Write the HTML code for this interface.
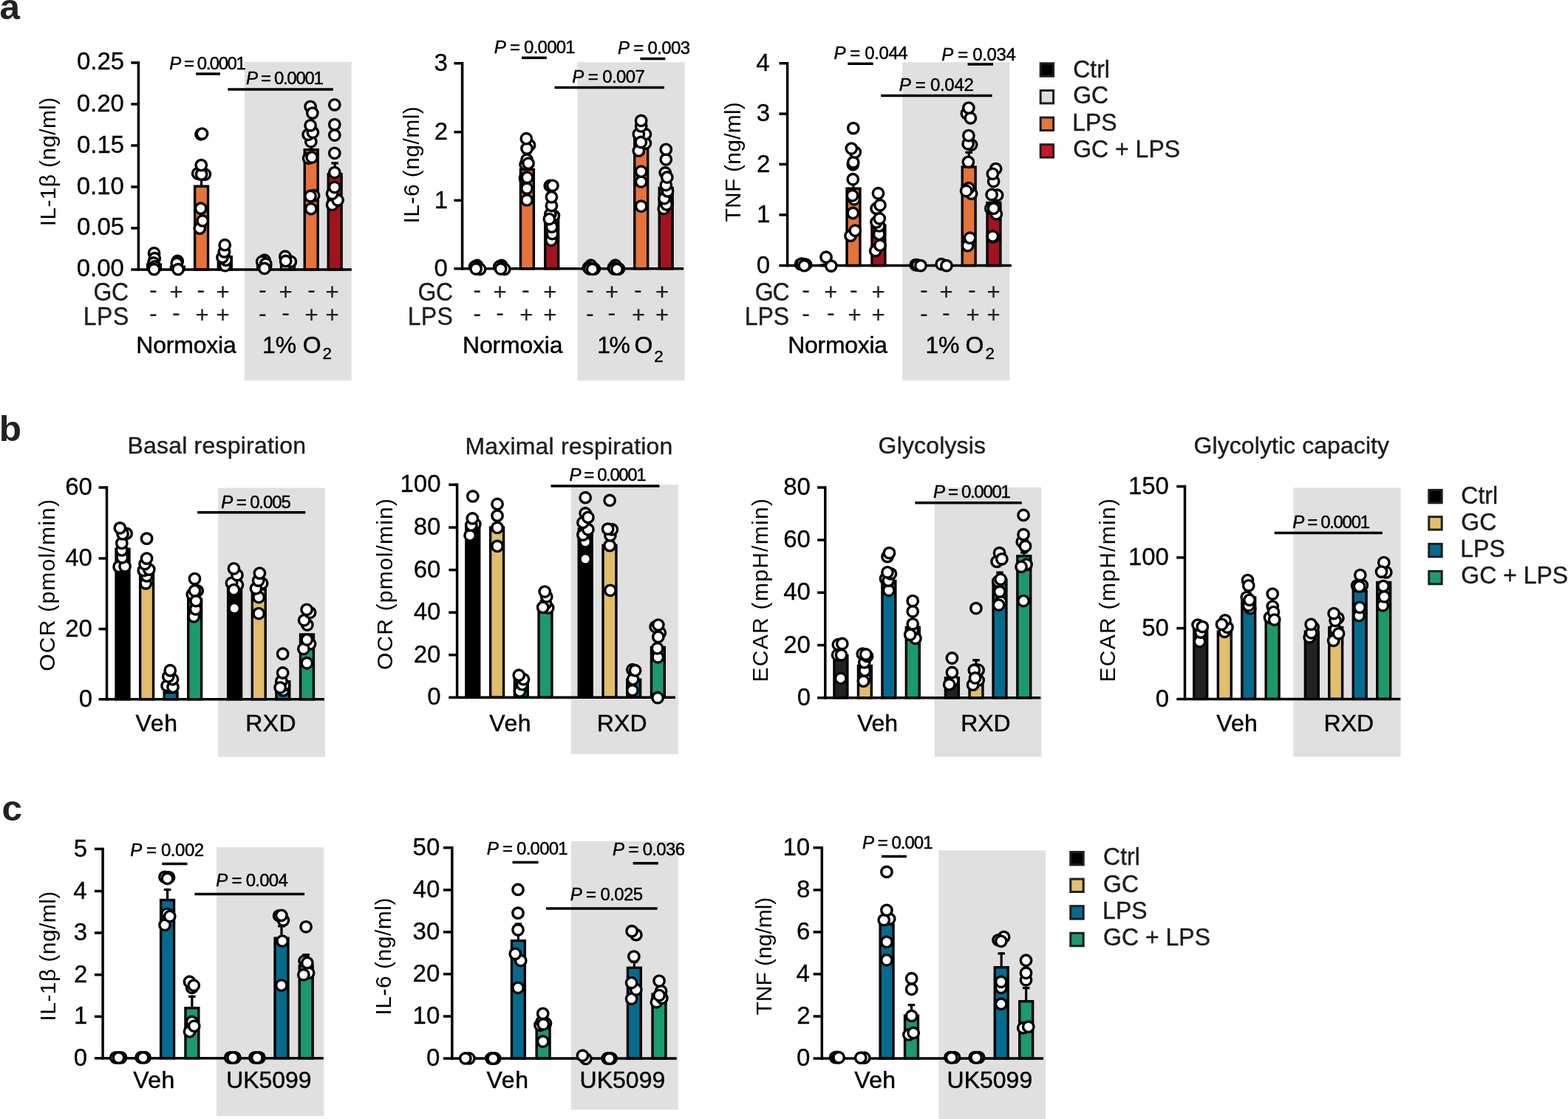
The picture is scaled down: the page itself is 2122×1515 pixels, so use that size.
<!DOCTYPE html>
<html lang="en">
<head>
<meta charset="utf-8">
<title>Figure</title>
<style>
html, body { margin: 0; padding: 0; background: #fff; }
body { width: 2122px; height: 1515px; overflow: hidden; }
svg { display: block; font-family: "Liberation Sans", Arial, Helvetica, sans-serif; }
svg text { white-space: pre; }
</style>
</head>
<body>
<svg xmlns="http://www.w3.org/2000/svg" width="2122" height="1515" viewBox="0 0 2122 1515">
<rect x="0" y="0" width="2122" height="1515" fill="#fff"/>
<g id="gray">
<rect x="330.9" y="83.7" width="144.9" height="431.5" fill="#e0e0e0"/>
<rect x="781.5" y="84.2" width="145.1" height="431" fill="#e0e0e0"/>
<rect x="1221.3" y="84.2" width="145" height="431" fill="#e0e0e0"/>
<rect x="295.2" y="660.6" width="144.8" height="364.2" fill="#e0e0e0"/>
<rect x="772.9" y="656.2" width="144.9" height="364.6" fill="#e0e0e0"/>
<rect x="1264.7" y="660" width="144.8" height="364.6" fill="#e0e0e0"/>
<rect x="1750.5" y="660.3" width="145.1" height="364.3" fill="#e0e0e0"/>
<rect x="293" y="1147" width="145.3" height="363.9" fill="#e0e0e0"/>
<rect x="772.9" y="1139" width="144.9" height="363.4" fill="#e0e0e0"/>
<rect x="1270.3" y="1151.2" width="144.9" height="364.8" fill="#e0e0e0"/>
</g>
<g id="bars">
<rect x="199.55" y="358.2" width="17.9" height="6.7" fill="#000" stroke="#000" stroke-width="3.4"/>
<rect x="231.45" y="361.2" width="17.9" height="3.7" fill="#dedede" stroke="#000" stroke-width="3.4"/>
<rect x="263.65" y="252.2" width="17.9" height="112.7" fill="#e5733b" stroke="#000" stroke-width="3.4"/>
<rect x="295.35" y="347.6" width="17.9" height="17.3" fill="#a1141f" stroke="#000" stroke-width="3.4"/>
<rect x="348.65" y="359.2" width="17.9" height="5.7" fill="#000" stroke="#000" stroke-width="3.4"/>
<rect x="380.55" y="357.7" width="17.9" height="7.2" fill="#dedede" stroke="#000" stroke-width="3.4"/>
<rect x="412.25" y="202.7" width="17.9" height="162.2" fill="#e5733b" stroke="#000" stroke-width="3.4"/>
<rect x="444.25" y="235.7" width="17.9" height="129.2" fill="#a1141f" stroke="#000" stroke-width="3.4"/>
<rect x="638.05" y="362.7" width="17.9" height="1" fill="#000" stroke="#000" stroke-width="3.4"/>
<rect x="671.25" y="362.7" width="17.9" height="1" fill="#dedede" stroke="#000" stroke-width="3.4"/>
<rect x="704.45" y="229.5" width="17.9" height="134.2" fill="#e5733b" stroke="#000" stroke-width="3.4"/>
<rect x="737.75" y="295.7" width="17.9" height="68" fill="#a1141f" stroke="#000" stroke-width="3.4"/>
<rect x="792.35" y="362.7" width="17.9" height="1" fill="#000" stroke="#000" stroke-width="3.4"/>
<rect x="825.55" y="362.7" width="17.9" height="1" fill="#dedede" stroke="#000" stroke-width="3.4"/>
<rect x="858.75" y="180.7" width="17.9" height="183" fill="#e5733b" stroke="#000" stroke-width="3.4"/>
<rect x="892.25" y="254.4" width="17.9" height="109.3" fill="#a1141f" stroke="#000" stroke-width="3.4"/>
<rect x="1078.05" y="358.7" width="17.9" height="0.9" fill="#000" stroke="#000" stroke-width="3.4"/>
<rect x="1112.05" y="358.7" width="17.9" height="0.9" fill="#dedede" stroke="#000" stroke-width="3.4"/>
<rect x="1146.05" y="255.2" width="17.9" height="104.4" fill="#e5733b" stroke="#000" stroke-width="3.4"/>
<rect x="1179.95" y="305.1" width="17.9" height="54.5" fill="#a1141f" stroke="#000" stroke-width="3.4"/>
<rect x="1234.25" y="358.7" width="17.9" height="0.9" fill="#000" stroke="#000" stroke-width="3.4"/>
<rect x="1268.25" y="358.7" width="17.9" height="0.9" fill="#dedede" stroke="#000" stroke-width="3.4"/>
<rect x="1302.25" y="226" width="17.9" height="133.6" fill="#e5733b" stroke="#000" stroke-width="3.4"/>
<rect x="1336.05" y="274.4" width="17.9" height="85.2" fill="#a1141f" stroke="#000" stroke-width="3.4"/>
<rect x="157.05" y="743.3" width="17.9" height="203.4" fill="#000" stroke="#000" stroke-width="3.4"/>
<rect x="189.65" y="774.7" width="17.9" height="172" fill="#e2be6a" stroke="#000" stroke-width="3.4"/>
<rect x="222.15" y="937.7" width="17.9" height="9" fill="#056b8e" stroke="#000" stroke-width="3.4"/>
<rect x="254.75" y="811.5" width="17.9" height="135.2" fill="#1c9a6b" stroke="#000" stroke-width="3.4"/>
<rect x="308.65" y="794.7" width="17.9" height="152" fill="#000" stroke="#000" stroke-width="3.4"/>
<rect x="341.35" y="797.7" width="17.9" height="149" fill="#e2be6a" stroke="#000" stroke-width="3.4"/>
<rect x="373.85" y="922.7" width="17.9" height="24" fill="#056b8e" stroke="#000" stroke-width="3.4"/>
<rect x="406.55" y="859" width="17.9" height="87.7" fill="#1c9a6b" stroke="#000" stroke-width="3.4"/>
<rect x="630.85" y="710.4" width="17.9" height="233.8" fill="#000" stroke="#000" stroke-width="3.4"/>
<rect x="663.65" y="714.1" width="17.9" height="230.1" fill="#e2be6a" stroke="#000" stroke-width="3.4"/>
<rect x="696.35" y="917.7" width="17.9" height="26.5" fill="#056b8e" stroke="#000" stroke-width="3.4"/>
<rect x="729.05" y="827.7" width="17.9" height="116.5" fill="#1c9a6b" stroke="#000" stroke-width="3.4"/>
<rect x="783.25" y="716.1" width="17.9" height="228.1" fill="#000" stroke="#000" stroke-width="3.4"/>
<rect x="816.05" y="738.3" width="17.9" height="205.9" fill="#e2be6a" stroke="#000" stroke-width="3.4"/>
<rect x="848.75" y="920.1" width="17.9" height="24.1" fill="#056b8e" stroke="#000" stroke-width="3.4"/>
<rect x="881.45" y="876.4" width="17.9" height="67.8" fill="#1c9a6b" stroke="#000" stroke-width="3.4"/>
<rect x="1128.95" y="887.7" width="17.9" height="57" fill="#222321" stroke="#000" stroke-width="3.4"/>
<rect x="1161.45" y="901.4" width="17.9" height="43.3" fill="#e2be6a" stroke="#000" stroke-width="3.4"/>
<rect x="1193.95" y="786.5" width="17.9" height="158.2" fill="#056b8e" stroke="#000" stroke-width="3.4"/>
<rect x="1226.35" y="849.3" width="17.9" height="95.4" fill="#1c9a6b" stroke="#000" stroke-width="3.4"/>
<rect x="1279.45" y="917.7" width="17.9" height="27" fill="#222321" stroke="#000" stroke-width="3.4"/>
<rect x="1312.05" y="921.4" width="17.9" height="23.3" fill="#e2be6a" stroke="#000" stroke-width="3.4"/>
<rect x="1344.05" y="785.3" width="17.9" height="159.4" fill="#056b8e" stroke="#000" stroke-width="3.4"/>
<rect x="1376.85" y="752.8" width="17.9" height="191.9" fill="#1c9a6b" stroke="#000" stroke-width="3.4"/>
<rect x="1615.75" y="852.7" width="17.9" height="93.7" fill="#222321" stroke="#000" stroke-width="3.4"/>
<rect x="1648.35" y="855.2" width="17.9" height="91.2" fill="#e2be6a" stroke="#000" stroke-width="3.4"/>
<rect x="1680.75" y="809" width="17.9" height="137.4" fill="#056b8e" stroke="#000" stroke-width="3.4"/>
<rect x="1713.15" y="841.5" width="17.9" height="104.9" fill="#1c9a6b" stroke="#000" stroke-width="3.4"/>
<rect x="1766.35" y="855.2" width="17.9" height="91.2" fill="#222321" stroke="#000" stroke-width="3.4"/>
<rect x="1798.75" y="849.5" width="17.9" height="96.9" fill="#e2be6a" stroke="#000" stroke-width="3.4"/>
<rect x="1831.25" y="800.3" width="17.9" height="146.1" fill="#056b8e" stroke="#000" stroke-width="3.4"/>
<rect x="1863.75" y="788.5" width="17.9" height="157.9" fill="#1c9a6b" stroke="#000" stroke-width="3.4"/>
<rect x="151.05" y="1432.2" width="17.9" height="0.5" fill="#000" stroke="#000" stroke-width="3.4"/>
<rect x="184.55" y="1432.2" width="17.9" height="0.5" fill="#e2be6a" stroke="#000" stroke-width="3.4"/>
<rect x="217.65" y="1218.5" width="17.9" height="214.2" fill="#056b8e" stroke="#000" stroke-width="3.4"/>
<rect x="250.95" y="1364.7" width="17.9" height="68" fill="#1c9a6b" stroke="#000" stroke-width="3.4"/>
<rect x="305.75" y="1432.2" width="17.9" height="0.5" fill="#000" stroke="#000" stroke-width="3.4"/>
<rect x="338.95" y="1432.2" width="17.9" height="0.5" fill="#e2be6a" stroke="#000" stroke-width="3.4"/>
<rect x="372.05" y="1270.2" width="17.9" height="162.5" fill="#056b8e" stroke="#000" stroke-width="3.4"/>
<rect x="405.25" y="1307.7" width="17.9" height="125" fill="#1c9a6b" stroke="#000" stroke-width="3.4"/>
<rect x="625.05" y="1432.5" width="17.9" height="0.5" fill="#000" stroke="#000" stroke-width="3.4"/>
<rect x="658.75" y="1432.5" width="17.9" height="0.5" fill="#e2be6a" stroke="#000" stroke-width="3.4"/>
<rect x="692.45" y="1273.6" width="17.9" height="159.4" fill="#056b8e" stroke="#000" stroke-width="3.4"/>
<rect x="726.15" y="1388.5" width="17.9" height="44.5" fill="#1c9a6b" stroke="#000" stroke-width="3.4"/>
<rect x="782.05" y="1432.5" width="17.9" height="0.5" fill="#000" stroke="#000" stroke-width="3.4"/>
<rect x="815.75" y="1432.5" width="17.9" height="0.5" fill="#e2be6a" stroke="#000" stroke-width="3.4"/>
<rect x="849.45" y="1310.3" width="17.9" height="122.7" fill="#056b8e" stroke="#000" stroke-width="3.4"/>
<rect x="883.05" y="1346" width="17.9" height="87" fill="#1c9a6b" stroke="#000" stroke-width="3.4"/>
<rect x="1124.05" y="1432.5" width="17.9" height="0.5" fill="#000" stroke="#000" stroke-width="3.4"/>
<rect x="1157.85" y="1432.5" width="17.9" height="0.5" fill="#e2be6a" stroke="#000" stroke-width="3.4"/>
<rect x="1191.15" y="1251.5" width="17.9" height="181.5" fill="#056b8e" stroke="#000" stroke-width="3.4"/>
<rect x="1224.55" y="1375.1" width="17.9" height="57.9" fill="#1c9a6b" stroke="#000" stroke-width="3.4"/>
<rect x="1279.45" y="1432.5" width="17.9" height="0.5" fill="#000" stroke="#000" stroke-width="3.4"/>
<rect x="1312.85" y="1432.5" width="17.9" height="0.5" fill="#e2be6a" stroke="#000" stroke-width="3.4"/>
<rect x="1346.25" y="1309.7" width="17.9" height="123.3" fill="#056b8e" stroke="#000" stroke-width="3.4"/>
<rect x="1379.75" y="1355.7" width="17.9" height="77.3" fill="#1c9a6b" stroke="#000" stroke-width="3.4"/>
</g>
<g id="err">
<line x1="272.6" y1="241" x2="272.6" y2="252.2" stroke="#000" stroke-width="3.2"/>
<line x1="267.8" y1="242.6" x2="277.4" y2="242.6" stroke="#000" stroke-width="3.2"/>
<line x1="421.2" y1="192.5" x2="421.2" y2="202.7" stroke="#000" stroke-width="3.2"/>
<line x1="416.4" y1="194.1" x2="426" y2="194.1" stroke="#000" stroke-width="3.2"/>
<line x1="453.2" y1="219.3" x2="453.2" y2="235.7" stroke="#000" stroke-width="3.2"/>
<line x1="448.4" y1="220.9" x2="458" y2="220.9" stroke="#000" stroke-width="3.2"/>
<line x1="713.4" y1="221" x2="713.4" y2="229.5" stroke="#000" stroke-width="3.2"/>
<line x1="708.6" y1="222.6" x2="718.2" y2="222.6" stroke="#000" stroke-width="3.2"/>
<line x1="867.7" y1="171.5" x2="867.7" y2="180.7" stroke="#000" stroke-width="3.2"/>
<line x1="862.9" y1="173.1" x2="872.5" y2="173.1" stroke="#000" stroke-width="3.2"/>
<line x1="901.2" y1="246.5" x2="901.2" y2="254.4" stroke="#000" stroke-width="3.2"/>
<line x1="896.4" y1="248.1" x2="906" y2="248.1" stroke="#000" stroke-width="3.2"/>
<line x1="1155" y1="246" x2="1155" y2="255.2" stroke="#000" stroke-width="3.2"/>
<line x1="1150.2" y1="247.6" x2="1159.8" y2="247.6" stroke="#000" stroke-width="3.2"/>
<line x1="1311.2" y1="204.8" x2="1311.2" y2="226" stroke="#000" stroke-width="3.2"/>
<line x1="1306.4" y1="206.4" x2="1316" y2="206.4" stroke="#000" stroke-width="3.2"/>
<line x1="1345" y1="266" x2="1345" y2="274.4" stroke="#000" stroke-width="3.2"/>
<line x1="1340.2" y1="267.6" x2="1349.8" y2="267.6" stroke="#000" stroke-width="3.2"/>
<line x1="1321" y1="892.2" x2="1321" y2="921.4" stroke="#000" stroke-width="3.2"/>
<line x1="1316.2" y1="893.8" x2="1325.8" y2="893.8" stroke="#000" stroke-width="3.2"/>
<line x1="1353" y1="773.6" x2="1353" y2="785.3" stroke="#000" stroke-width="3.2"/>
<line x1="1348.2" y1="775.2" x2="1357.8" y2="775.2" stroke="#000" stroke-width="3.2"/>
<line x1="1385.8" y1="746.5" x2="1385.8" y2="752.8" stroke="#000" stroke-width="3.2"/>
<line x1="1381" y1="748.1" x2="1390.6" y2="748.1" stroke="#000" stroke-width="3.2"/>
<line x1="226.6" y1="1202.9" x2="226.6" y2="1218.5" stroke="#000" stroke-width="3.2"/>
<line x1="221.8" y1="1204.5" x2="231.4" y2="1204.5" stroke="#000" stroke-width="3.2"/>
<line x1="259.9" y1="1347.6" x2="259.9" y2="1364.7" stroke="#000" stroke-width="3.2"/>
<line x1="255.1" y1="1349.2" x2="264.7" y2="1349.2" stroke="#000" stroke-width="3.2"/>
<line x1="381" y1="1252.3" x2="381" y2="1270.2" stroke="#000" stroke-width="3.2"/>
<line x1="376.2" y1="1253.9" x2="385.8" y2="1253.9" stroke="#000" stroke-width="3.2"/>
<line x1="414.2" y1="1291" x2="414.2" y2="1307.7" stroke="#000" stroke-width="3.2"/>
<line x1="409.4" y1="1292.6" x2="419" y2="1292.6" stroke="#000" stroke-width="3.2"/>
<line x1="701.4" y1="1249.5" x2="701.4" y2="1273.6" stroke="#000" stroke-width="3.2"/>
<line x1="696.6" y1="1251.1" x2="706.2" y2="1251.1" stroke="#000" stroke-width="3.2"/>
<line x1="858.4" y1="1300.6" x2="858.4" y2="1310.3" stroke="#000" stroke-width="3.2"/>
<line x1="853.6" y1="1302.2" x2="863.2" y2="1302.2" stroke="#000" stroke-width="3.2"/>
<line x1="1233.5" y1="1359" x2="1233.5" y2="1375.1" stroke="#000" stroke-width="3.2"/>
<line x1="1228.7" y1="1360.6" x2="1238.3" y2="1360.6" stroke="#000" stroke-width="3.2"/>
<line x1="1355.2" y1="1289.3" x2="1355.2" y2="1309.7" stroke="#000" stroke-width="3.2"/>
<line x1="1350.4" y1="1290.9" x2="1360" y2="1290.9" stroke="#000" stroke-width="3.2"/>
<line x1="1388.7" y1="1336" x2="1388.7" y2="1355.7" stroke="#000" stroke-width="3.2"/>
<line x1="1383.9" y1="1337.6" x2="1393.5" y2="1337.6" stroke="#000" stroke-width="3.2"/>
</g>
<g id="axes">
<line x1="187.4" y1="83.15" x2="187.4" y2="366.65" stroke="#000" stroke-width="3.5"/>
<line x1="177.3" y1="364.9" x2="475.8" y2="364.9" stroke="#000" stroke-width="3.5"/>
<line x1="177.3" y1="84.9" x2="187.4" y2="84.9" stroke="#000" stroke-width="3.5"/>
<line x1="177.3" y1="141" x2="187.4" y2="141" stroke="#000" stroke-width="3.5"/>
<line x1="177.3" y1="197" x2="187.4" y2="197" stroke="#000" stroke-width="3.5"/>
<line x1="177.3" y1="253" x2="187.4" y2="253" stroke="#000" stroke-width="3.5"/>
<line x1="177.3" y1="308.9" x2="187.4" y2="308.9" stroke="#000" stroke-width="3.5"/>
<line x1="625.6" y1="83.95" x2="625.6" y2="365.45" stroke="#000" stroke-width="3.5"/>
<line x1="614.4" y1="363.7" x2="925.1" y2="363.7" stroke="#000" stroke-width="3.5"/>
<line x1="614.4" y1="85.7" x2="625.6" y2="85.7" stroke="#000" stroke-width="3.5"/>
<line x1="614.4" y1="178.8" x2="625.6" y2="178.8" stroke="#000" stroke-width="3.5"/>
<line x1="614.4" y1="271.3" x2="625.6" y2="271.3" stroke="#000" stroke-width="3.5"/>
<line x1="1065.6" y1="83.95" x2="1065.6" y2="361.35" stroke="#000" stroke-width="3.5"/>
<line x1="1054.4" y1="359.6" x2="1368.8" y2="359.6" stroke="#000" stroke-width="3.5"/>
<line x1="1054.4" y1="85.7" x2="1065.6" y2="85.7" stroke="#000" stroke-width="3.5"/>
<line x1="1054.4" y1="154.1" x2="1065.6" y2="154.1" stroke="#000" stroke-width="3.5"/>
<line x1="1054.4" y1="222.4" x2="1065.6" y2="222.4" stroke="#000" stroke-width="3.5"/>
<line x1="1054.4" y1="290.9" x2="1065.6" y2="290.9" stroke="#000" stroke-width="3.5"/>
<line x1="144.5" y1="658.25" x2="144.5" y2="948.45" stroke="#000" stroke-width="3.5"/>
<line x1="133.6" y1="946.7" x2="438.8" y2="946.7" stroke="#000" stroke-width="3.5"/>
<line x1="133.6" y1="660" x2="144.5" y2="660" stroke="#000" stroke-width="3.5"/>
<line x1="133.6" y1="756" x2="144.5" y2="756" stroke="#000" stroke-width="3.5"/>
<line x1="133.6" y1="851.6" x2="144.5" y2="851.6" stroke="#000" stroke-width="3.5"/>
<line x1="618.6" y1="654.45" x2="618.6" y2="945.95" stroke="#000" stroke-width="3.5"/>
<line x1="607.3" y1="944.2" x2="914" y2="944.2" stroke="#000" stroke-width="3.5"/>
<line x1="607.3" y1="656.2" x2="618.6" y2="656.2" stroke="#000" stroke-width="3.5"/>
<line x1="607.3" y1="714.1" x2="618.6" y2="714.1" stroke="#000" stroke-width="3.5"/>
<line x1="607.3" y1="771.6" x2="618.6" y2="771.6" stroke="#000" stroke-width="3.5"/>
<line x1="607.3" y1="829.2" x2="618.6" y2="829.2" stroke="#000" stroke-width="3.5"/>
<line x1="607.3" y1="886.7" x2="618.6" y2="886.7" stroke="#000" stroke-width="3.5"/>
<line x1="1116.8" y1="658.25" x2="1116.8" y2="946.45" stroke="#000" stroke-width="3.5"/>
<line x1="1106.1" y1="944.7" x2="1408.3" y2="944.7" stroke="#000" stroke-width="3.5"/>
<line x1="1106.1" y1="660" x2="1116.8" y2="660" stroke="#000" stroke-width="3.5"/>
<line x1="1106.1" y1="731.1" x2="1116.8" y2="731.1" stroke="#000" stroke-width="3.5"/>
<line x1="1106.1" y1="802.3" x2="1116.8" y2="802.3" stroke="#000" stroke-width="3.5"/>
<line x1="1106.1" y1="873.5" x2="1116.8" y2="873.5" stroke="#000" stroke-width="3.5"/>
<line x1="1603.5" y1="656.85" x2="1603.5" y2="948.15" stroke="#000" stroke-width="3.5"/>
<line x1="1592.3" y1="946.4" x2="1895.3" y2="946.4" stroke="#000" stroke-width="3.5"/>
<line x1="1592.3" y1="658.6" x2="1603.5" y2="658.6" stroke="#000" stroke-width="3.5"/>
<line x1="1592.3" y1="754.9" x2="1603.5" y2="754.9" stroke="#000" stroke-width="3.5"/>
<line x1="1592.3" y1="850.6" x2="1603.5" y2="850.6" stroke="#000" stroke-width="3.5"/>
<line x1="139.1" y1="1147.65" x2="139.1" y2="1434.45" stroke="#000" stroke-width="3.5"/>
<line x1="127.9" y1="1432.7" x2="437.8" y2="1432.7" stroke="#000" stroke-width="3.5"/>
<line x1="127.9" y1="1149.4" x2="139.1" y2="1149.4" stroke="#000" stroke-width="3.5"/>
<line x1="127.9" y1="1206.5" x2="139.1" y2="1206.5" stroke="#000" stroke-width="3.5"/>
<line x1="127.9" y1="1263" x2="139.1" y2="1263" stroke="#000" stroke-width="3.5"/>
<line x1="127.9" y1="1319.7" x2="139.1" y2="1319.7" stroke="#000" stroke-width="3.5"/>
<line x1="127.9" y1="1376.3" x2="139.1" y2="1376.3" stroke="#000" stroke-width="3.5"/>
<line x1="611.8" y1="1145.95" x2="611.8" y2="1434.75" stroke="#000" stroke-width="3.5"/>
<line x1="599.9" y1="1433" x2="915.8" y2="1433" stroke="#000" stroke-width="3.5"/>
<line x1="599.9" y1="1147.7" x2="611.8" y2="1147.7" stroke="#000" stroke-width="3.5"/>
<line x1="599.9" y1="1204.9" x2="611.8" y2="1204.9" stroke="#000" stroke-width="3.5"/>
<line x1="599.9" y1="1261.9" x2="611.8" y2="1261.9" stroke="#000" stroke-width="3.5"/>
<line x1="599.9" y1="1318.8" x2="611.8" y2="1318.8" stroke="#000" stroke-width="3.5"/>
<line x1="599.9" y1="1376" x2="611.8" y2="1376" stroke="#000" stroke-width="3.5"/>
<line x1="1112.3" y1="1145.95" x2="1112.3" y2="1434.75" stroke="#000" stroke-width="3.5"/>
<line x1="1100.6" y1="1433" x2="1412.1" y2="1433" stroke="#000" stroke-width="3.5"/>
<line x1="1100.6" y1="1147.7" x2="1112.3" y2="1147.7" stroke="#000" stroke-width="3.5"/>
<line x1="1100.6" y1="1204.9" x2="1112.3" y2="1204.9" stroke="#000" stroke-width="3.5"/>
<line x1="1100.6" y1="1261.9" x2="1112.3" y2="1261.9" stroke="#000" stroke-width="3.5"/>
<line x1="1100.6" y1="1318.8" x2="1112.3" y2="1318.8" stroke="#000" stroke-width="3.5"/>
<line x1="1100.6" y1="1376" x2="1112.3" y2="1376" stroke="#000" stroke-width="3.5"/>
</g>
<g id="dots">
<circle cx="208.55" cy="342.68" r="7.2" fill="#fff" stroke="#000" stroke-width="3.4"/>
<circle cx="209.3" cy="349.67" r="7.2" fill="#fff" stroke="#000" stroke-width="3.4"/>
<circle cx="207.8" cy="355.91" r="7.2" fill="#fff" stroke="#000" stroke-width="3.4"/>
<circle cx="209.3" cy="360.91" r="7.2" fill="#fff" stroke="#000" stroke-width="3.4"/>
<circle cx="208.55" cy="364.66" r="7.2" fill="#fff" stroke="#000" stroke-width="3.4"/>
<circle cx="240.27" cy="353.42" r="7.2" fill="#fff" stroke="#000" stroke-width="3.4"/>
<circle cx="239.27" cy="356.41" r="7.2" fill="#fff" stroke="#000" stroke-width="3.4"/>
<circle cx="241.02" cy="364.66" r="7.2" fill="#fff" stroke="#000" stroke-width="3.4"/>
<circle cx="270.25" cy="309.21" r="7.2" fill="#fff" stroke="#000" stroke-width="3.4"/>
<circle cx="274.24" cy="298.97" r="7.2" fill="#fff" stroke="#000" stroke-width="3.4"/>
<circle cx="271.74" cy="282.23" r="7.2" fill="#fff" stroke="#000" stroke-width="3.4"/>
<circle cx="267.7" cy="234.9" r="7.2" fill="#fff" stroke="#000" stroke-width="3.4"/>
<circle cx="277.4" cy="236.1" r="7.2" fill="#fff" stroke="#000" stroke-width="3.4"/>
<circle cx="272.6" cy="236.1" r="7.2" fill="#fff" stroke="#000" stroke-width="3.4"/>
<circle cx="272.3" cy="223.6" r="7.2" fill="#fff" stroke="#000" stroke-width="3.4"/>
<circle cx="271.99" cy="181.83" r="7.2" fill="#fff" stroke="#000" stroke-width="3.4"/>
<circle cx="273.49" cy="181.08" r="7.2" fill="#fff" stroke="#000" stroke-width="3.4"/>
<circle cx="304.71" cy="359.66" r="7.2" fill="#fff" stroke="#000" stroke-width="3.4"/>
<circle cx="305.96" cy="352.17" r="7.2" fill="#fff" stroke="#000" stroke-width="3.4"/>
<circle cx="300.97" cy="348.42" r="7.2" fill="#fff" stroke="#000" stroke-width="3.4"/>
<circle cx="303.46" cy="340.93" r="7.2" fill="#fff" stroke="#000" stroke-width="3.4"/>
<circle cx="304.21" cy="331.69" r="7.2" fill="#fff" stroke="#000" stroke-width="3.4"/>
<circle cx="357.91" cy="352.17" r="7.2" fill="#fff" stroke="#000" stroke-width="3.4"/>
<circle cx="354.67" cy="354.17" r="7.2" fill="#fff" stroke="#000" stroke-width="3.4"/>
<circle cx="359.66" cy="357.16" r="7.2" fill="#fff" stroke="#000" stroke-width="3.4"/>
<circle cx="357.91" cy="363.41" r="7.2" fill="#fff" stroke="#000" stroke-width="3.4"/>
<circle cx="393.38" cy="354.17" r="7.2" fill="#fff" stroke="#000" stroke-width="3.4"/>
<circle cx="385.89" cy="347.17" r="7.2" fill="#fff" stroke="#000" stroke-width="3.4"/>
<circle cx="386.64" cy="353.42" r="7.2" fill="#fff" stroke="#000" stroke-width="3.4"/>
<circle cx="420.85" cy="282.73" r="7.2" fill="#fff" stroke="#000" stroke-width="3.4"/>
<circle cx="424.6" cy="264.75" r="7.2" fill="#fff" stroke="#000" stroke-width="3.4"/>
<circle cx="420.1" cy="265.5" r="7.2" fill="#fff" stroke="#000" stroke-width="3.4"/>
<circle cx="417.61" cy="214.3" r="7.2" fill="#fff" stroke="#000" stroke-width="3.4"/>
<circle cx="422.1" cy="213.05" r="7.2" fill="#fff" stroke="#000" stroke-width="3.4"/>
<circle cx="420.85" cy="191.82" r="7.2" fill="#fff" stroke="#000" stroke-width="3.4"/>
<circle cx="417.11" cy="182.33" r="7.2" fill="#fff" stroke="#000" stroke-width="3.4"/>
<circle cx="423.35" cy="179.33" r="7.2" fill="#fff" stroke="#000" stroke-width="3.4"/>
<circle cx="420.1" cy="169.84" r="7.2" fill="#fff" stroke="#000" stroke-width="3.4"/>
<circle cx="420.1" cy="144.36" r="7.2" fill="#fff" stroke="#000" stroke-width="3.4"/>
<circle cx="422.85" cy="153.11" r="7.2" fill="#fff" stroke="#000" stroke-width="3.4"/>
<circle cx="449.58" cy="277.24" r="7.2" fill="#fff" stroke="#000" stroke-width="3.4"/>
<circle cx="457.07" cy="270.99" r="7.2" fill="#fff" stroke="#000" stroke-width="3.4"/>
<circle cx="449.58" cy="262.25" r="7.2" fill="#fff" stroke="#000" stroke-width="3.4"/>
<circle cx="452.82" cy="253.51" r="7.2" fill="#fff" stroke="#000" stroke-width="3.4"/>
<circle cx="452.82" cy="233.53" r="7.2" fill="#fff" stroke="#000" stroke-width="3.4"/>
<circle cx="452.82" cy="207.3" r="7.2" fill="#fff" stroke="#000" stroke-width="3.4"/>
<circle cx="452.82" cy="183.08" r="7.2" fill="#fff" stroke="#000" stroke-width="3.4"/>
<circle cx="452.82" cy="168.59" r="7.2" fill="#fff" stroke="#000" stroke-width="3.4"/>
<circle cx="452.82" cy="141.87" r="7.2" fill="#fff" stroke="#000" stroke-width="3.4"/>
<circle cx="645.64" cy="359.48" r="7.2" fill="#fff" stroke="#000" stroke-width="3.4"/>
<circle cx="649.56" cy="364.46" r="7.2" fill="#fff" stroke="#000" stroke-width="3.4"/>
<circle cx="642.62" cy="360.99" r="7.2" fill="#fff" stroke="#000" stroke-width="3.4"/>
<circle cx="644.13" cy="364" r="7.2" fill="#fff" stroke="#000" stroke-width="3.4"/>
<circle cx="678.82" cy="359.48" r="7.2" fill="#fff" stroke="#000" stroke-width="3.4"/>
<circle cx="682.75" cy="364.46" r="7.2" fill="#fff" stroke="#000" stroke-width="3.4"/>
<circle cx="675.81" cy="360.99" r="7.2" fill="#fff" stroke="#000" stroke-width="3.4"/>
<circle cx="677.62" cy="364" r="7.2" fill="#fff" stroke="#000" stroke-width="3.4"/>
<circle cx="713.06" cy="270.94" r="7.2" fill="#fff" stroke="#000" stroke-width="3.4"/>
<circle cx="713.06" cy="255.11" r="7.2" fill="#fff" stroke="#000" stroke-width="3.4"/>
<circle cx="710.5" cy="241.23" r="7.2" fill="#fff" stroke="#000" stroke-width="3.4"/>
<circle cx="713.51" cy="240.32" r="7.2" fill="#fff" stroke="#000" stroke-width="3.4"/>
<circle cx="711.1" cy="222.68" r="7.2" fill="#fff" stroke="#000" stroke-width="3.4"/>
<circle cx="713.06" cy="216.19" r="7.2" fill="#fff" stroke="#000" stroke-width="3.4"/>
<circle cx="715.02" cy="221.17" r="7.2" fill="#fff" stroke="#000" stroke-width="3.4"/>
<circle cx="716.53" cy="196.58" r="7.2" fill="#fff" stroke="#000" stroke-width="3.4"/>
<circle cx="713.06" cy="201.11" r="7.2" fill="#fff" stroke="#000" stroke-width="3.4"/>
<circle cx="712.31" cy="187.68" r="7.2" fill="#fff" stroke="#000" stroke-width="3.4"/>
<circle cx="745.94" cy="325.24" r="7.2" fill="#fff" stroke="#000" stroke-width="3.4"/>
<circle cx="747.45" cy="316.49" r="7.2" fill="#fff" stroke="#000" stroke-width="3.4"/>
<circle cx="746.7" cy="307.14" r="7.2" fill="#fff" stroke="#000" stroke-width="3.4"/>
<circle cx="749.41" cy="292.06" r="7.2" fill="#fff" stroke="#000" stroke-width="3.4"/>
<circle cx="744.89" cy="290.1" r="7.2" fill="#fff" stroke="#000" stroke-width="3.4"/>
<circle cx="743.38" cy="296.58" r="7.2" fill="#fff" stroke="#000" stroke-width="3.4"/>
<circle cx="746.4" cy="278.48" r="7.2" fill="#fff" stroke="#000" stroke-width="3.4"/>
<circle cx="746.4" cy="266.87" r="7.2" fill="#fff" stroke="#000" stroke-width="3.4"/>
<circle cx="744.28" cy="251.49" r="7.2" fill="#fff" stroke="#000" stroke-width="3.4"/>
<circle cx="747.9" cy="251.33" r="7.2" fill="#fff" stroke="#000" stroke-width="3.4"/>
<circle cx="799.49" cy="359.18" r="7.2" fill="#fff" stroke="#000" stroke-width="3.4"/>
<circle cx="796.47" cy="362.19" r="7.2" fill="#fff" stroke="#000" stroke-width="3.4"/>
<circle cx="804.31" cy="364" r="7.2" fill="#fff" stroke="#000" stroke-width="3.4"/>
<circle cx="797.98" cy="364" r="7.2" fill="#fff" stroke="#000" stroke-width="3.4"/>
<circle cx="801.75" cy="364.46" r="7.2" fill="#fff" stroke="#000" stroke-width="3.4"/>
<circle cx="832.67" cy="359.18" r="7.2" fill="#fff" stroke="#000" stroke-width="3.4"/>
<circle cx="830.41" cy="362.19" r="7.2" fill="#fff" stroke="#000" stroke-width="3.4"/>
<circle cx="837.5" cy="364" r="7.2" fill="#fff" stroke="#000" stroke-width="3.4"/>
<circle cx="831.16" cy="364" r="7.2" fill="#fff" stroke="#000" stroke-width="3.4"/>
<circle cx="834.93" cy="364.46" r="7.2" fill="#fff" stroke="#000" stroke-width="3.4"/>
<circle cx="867.66" cy="279.24" r="7.2" fill="#fff" stroke="#000" stroke-width="3.4"/>
<circle cx="867.66" cy="246.06" r="7.2" fill="#fff" stroke="#000" stroke-width="3.4"/>
<circle cx="867.66" cy="232.18" r="7.2" fill="#fff" stroke="#000" stroke-width="3.4"/>
<circle cx="864.34" cy="204.13" r="7.2" fill="#fff" stroke="#000" stroke-width="3.4"/>
<circle cx="873.39" cy="194.02" r="7.2" fill="#fff" stroke="#000" stroke-width="3.4"/>
<circle cx="873.39" cy="181.65" r="7.2" fill="#fff" stroke="#000" stroke-width="3.4"/>
<circle cx="864.34" cy="181.65" r="7.2" fill="#fff" stroke="#000" stroke-width="3.4"/>
<circle cx="867.36" cy="192.51" r="7.2" fill="#fff" stroke="#000" stroke-width="3.4"/>
<circle cx="867.66" cy="170.94" r="7.2" fill="#fff" stroke="#000" stroke-width="3.4"/>
<circle cx="867.66" cy="163.4" r="7.2" fill="#fff" stroke="#000" stroke-width="3.4"/>
<circle cx="898.28" cy="282.56" r="7.2" fill="#fff" stroke="#000" stroke-width="3.4"/>
<circle cx="903.26" cy="274.71" r="7.2" fill="#fff" stroke="#000" stroke-width="3.4"/>
<circle cx="902.05" cy="276.98" r="7.2" fill="#fff" stroke="#000" stroke-width="3.4"/>
<circle cx="899.03" cy="268.68" r="7.2" fill="#fff" stroke="#000" stroke-width="3.4"/>
<circle cx="903.56" cy="258.88" r="7.2" fill="#fff" stroke="#000" stroke-width="3.4"/>
<circle cx="901.3" cy="250.58" r="7.2" fill="#fff" stroke="#000" stroke-width="3.4"/>
<circle cx="900.24" cy="233.99" r="7.2" fill="#fff" stroke="#000" stroke-width="3.4"/>
<circle cx="902.81" cy="240.02" r="7.2" fill="#fff" stroke="#000" stroke-width="3.4"/>
<circle cx="901.3" cy="215.89" r="7.2" fill="#fff" stroke="#000" stroke-width="3.4"/>
<circle cx="901.3" cy="202.32" r="7.2" fill="#fff" stroke="#000" stroke-width="3.4"/>
<circle cx="1083.6" cy="357.6" r="7.2" fill="#fff" stroke="#000" stroke-width="3.4"/>
<circle cx="1085.4" cy="357.2" r="7.2" fill="#fff" stroke="#000" stroke-width="3.4"/>
<circle cx="1090.6" cy="358.2" r="7.2" fill="#fff" stroke="#000" stroke-width="3.4"/>
<circle cx="1088.4" cy="359.7" r="7.2" fill="#fff" stroke="#000" stroke-width="3.4"/>
<circle cx="1124.8" cy="360.1" r="7.2" fill="#fff" stroke="#000" stroke-width="3.4"/>
<circle cx="1118" cy="348.2" r="7.2" fill="#fff" stroke="#000" stroke-width="3.4"/>
<circle cx="1151.04" cy="319.2" r="7.2" fill="#fff" stroke="#000" stroke-width="3.4"/>
<circle cx="1157.29" cy="312.21" r="7.2" fill="#fff" stroke="#000" stroke-width="3.4"/>
<circle cx="1154.29" cy="288.48" r="7.2" fill="#fff" stroke="#000" stroke-width="3.4"/>
<circle cx="1156.04" cy="269.75" r="7.2" fill="#fff" stroke="#000" stroke-width="3.4"/>
<circle cx="1153.54" cy="264.75" r="7.2" fill="#fff" stroke="#000" stroke-width="3.4"/>
<circle cx="1154.29" cy="242.77" r="7.2" fill="#fff" stroke="#000" stroke-width="3.4"/>
<circle cx="1154.29" cy="222.79" r="7.2" fill="#fff" stroke="#000" stroke-width="3.4"/>
<circle cx="1154.79" cy="219.79" r="7.2" fill="#fff" stroke="#000" stroke-width="3.4"/>
<circle cx="1157.29" cy="206.06" r="7.2" fill="#fff" stroke="#000" stroke-width="3.4"/>
<circle cx="1152.29" cy="201.06" r="7.2" fill="#fff" stroke="#000" stroke-width="3.4"/>
<circle cx="1154.79" cy="173.59" r="7.2" fill="#fff" stroke="#000" stroke-width="3.4"/>
<circle cx="1184.76" cy="339.68" r="7.2" fill="#fff" stroke="#000" stroke-width="3.4"/>
<circle cx="1191" cy="332.19" r="7.2" fill="#fff" stroke="#000" stroke-width="3.4"/>
<circle cx="1189.75" cy="317.2" r="7.2" fill="#fff" stroke="#000" stroke-width="3.4"/>
<circle cx="1189.75" cy="305.96" r="7.2" fill="#fff" stroke="#000" stroke-width="3.4"/>
<circle cx="1186.01" cy="300.97" r="7.2" fill="#fff" stroke="#000" stroke-width="3.4"/>
<circle cx="1190.25" cy="295.97" r="7.2" fill="#fff" stroke="#000" stroke-width="3.4"/>
<circle cx="1186.01" cy="282.23" r="7.2" fill="#fff" stroke="#000" stroke-width="3.4"/>
<circle cx="1191" cy="277.74" r="7.2" fill="#fff" stroke="#000" stroke-width="3.4"/>
<circle cx="1188.51" cy="261.75" r="7.2" fill="#fff" stroke="#000" stroke-width="3.4"/>
<circle cx="1239.21" cy="358.66" r="7.2" fill="#fff" stroke="#000" stroke-width="3.4"/>
<circle cx="1241.71" cy="358.91" r="7.2" fill="#fff" stroke="#000" stroke-width="3.4"/>
<circle cx="1245.95" cy="359.66" r="7.2" fill="#fff" stroke="#000" stroke-width="3.4"/>
<circle cx="1274.18" cy="357.66" r="7.2" fill="#fff" stroke="#000" stroke-width="3.4"/>
<circle cx="1280.92" cy="359.66" r="7.2" fill="#fff" stroke="#000" stroke-width="3.4"/>
<circle cx="1309.64" cy="332.69" r="7.2" fill="#fff" stroke="#000" stroke-width="3.4"/>
<circle cx="1312.64" cy="322.2" r="7.2" fill="#fff" stroke="#000" stroke-width="3.4"/>
<circle cx="1314.64" cy="262.25" r="7.2" fill="#fff" stroke="#000" stroke-width="3.4"/>
<circle cx="1310.89" cy="254.76" r="7.2" fill="#fff" stroke="#000" stroke-width="3.4"/>
<circle cx="1307.64" cy="258.51" r="7.2" fill="#fff" stroke="#000" stroke-width="3.4"/>
<circle cx="1310.39" cy="219.29" r="7.2" fill="#fff" stroke="#000" stroke-width="3.4"/>
<circle cx="1314.64" cy="196.07" r="7.2" fill="#fff" stroke="#000" stroke-width="3.4"/>
<circle cx="1310.14" cy="194.82" r="7.2" fill="#fff" stroke="#000" stroke-width="3.4"/>
<circle cx="1310.89" cy="183.58" r="7.2" fill="#fff" stroke="#000" stroke-width="3.4"/>
<circle cx="1308.39" cy="153.61" r="7.2" fill="#fff" stroke="#000" stroke-width="3.4"/>
<circle cx="1313.39" cy="159.85" r="7.2" fill="#fff" stroke="#000" stroke-width="3.4"/>
<circle cx="1310.89" cy="146.11" r="7.2" fill="#fff" stroke="#000" stroke-width="3.4"/>
<circle cx="1344.11" cy="320.95" r="7.2" fill="#fff" stroke="#000" stroke-width="3.4"/>
<circle cx="1343.36" cy="319.95" r="7.2" fill="#fff" stroke="#000" stroke-width="3.4"/>
<circle cx="1348.36" cy="289.73" r="7.2" fill="#fff" stroke="#000" stroke-width="3.4"/>
<circle cx="1340.86" cy="282.23" r="7.2" fill="#fff" stroke="#000" stroke-width="3.4"/>
<circle cx="1344.61" cy="282.23" r="7.2" fill="#fff" stroke="#000" stroke-width="3.4"/>
<circle cx="1349.6" cy="264.25" r="7.2" fill="#fff" stroke="#000" stroke-width="3.4"/>
<circle cx="1342.11" cy="263.5" r="7.2" fill="#fff" stroke="#000" stroke-width="3.4"/>
<circle cx="1344.61" cy="245.52" r="7.2" fill="#fff" stroke="#000" stroke-width="3.4"/>
<circle cx="1347.61" cy="228.53" r="7.2" fill="#fff" stroke="#000" stroke-width="3.4"/>
<circle cx="1343.36" cy="235.28" r="7.2" fill="#fff" stroke="#000" stroke-width="3.4"/>
<circle cx="161.1" cy="767.36" r="7.2" fill="#fff" stroke="#000" stroke-width="3.4"/>
<circle cx="169.09" cy="766.86" r="7.2" fill="#fff" stroke="#000" stroke-width="3.4"/>
<circle cx="165.34" cy="754.87" r="7.2" fill="#fff" stroke="#000" stroke-width="3.4"/>
<circle cx="164.84" cy="744.88" r="7.2" fill="#fff" stroke="#000" stroke-width="3.4"/>
<circle cx="164.84" cy="735.39" r="7.2" fill="#fff" stroke="#000" stroke-width="3.4"/>
<circle cx="171.09" cy="722.4" r="7.2" fill="#fff" stroke="#000" stroke-width="3.4"/>
<circle cx="166.09" cy="722.9" r="7.2" fill="#fff" stroke="#000" stroke-width="3.4"/>
<circle cx="162.35" cy="714.91" r="7.2" fill="#fff" stroke="#000" stroke-width="3.4"/>
<circle cx="197.31" cy="789.84" r="7.2" fill="#fff" stroke="#000" stroke-width="3.4"/>
<circle cx="198.56" cy="779.85" r="7.2" fill="#fff" stroke="#000" stroke-width="3.4"/>
<circle cx="194.32" cy="772.36" r="7.2" fill="#fff" stroke="#000" stroke-width="3.4"/>
<circle cx="201.81" cy="771.11" r="7.2" fill="#fff" stroke="#000" stroke-width="3.4"/>
<circle cx="196.07" cy="763.61" r="7.2" fill="#fff" stroke="#000" stroke-width="3.4"/>
<circle cx="198.56" cy="756.12" r="7.2" fill="#fff" stroke="#000" stroke-width="3.4"/>
<circle cx="198.56" cy="729.15" r="7.2" fill="#fff" stroke="#000" stroke-width="3.4"/>
<circle cx="226.04" cy="928.46" r="7.2" fill="#fff" stroke="#000" stroke-width="3.4"/>
<circle cx="234.03" cy="930.21" r="7.2" fill="#fff" stroke="#000" stroke-width="3.4"/>
<circle cx="233.53" cy="919.72" r="7.2" fill="#fff" stroke="#000" stroke-width="3.4"/>
<circle cx="227.79" cy="915.97" r="7.2" fill="#fff" stroke="#000" stroke-width="3.4"/>
<circle cx="230.28" cy="907.73" r="7.2" fill="#fff" stroke="#000" stroke-width="3.4"/>
<circle cx="262.25" cy="834.8" r="7.2" fill="#fff" stroke="#000" stroke-width="3.4"/>
<circle cx="264.75" cy="824.81" r="7.2" fill="#fff" stroke="#000" stroke-width="3.4"/>
<circle cx="260.25" cy="804.83" r="7.2" fill="#fff" stroke="#000" stroke-width="3.4"/>
<circle cx="265.25" cy="813.57" r="7.2" fill="#fff" stroke="#000" stroke-width="3.4"/>
<circle cx="267.25" cy="799.83" r="7.2" fill="#fff" stroke="#000" stroke-width="3.4"/>
<circle cx="263.5" cy="799.83" r="7.2" fill="#fff" stroke="#000" stroke-width="3.4"/>
<circle cx="263.5" cy="783.6" r="7.2" fill="#fff" stroke="#000" stroke-width="3.4"/>
<circle cx="317.2" cy="823.56" r="7.2" fill="#fff" stroke="#000" stroke-width="3.4"/>
<circle cx="321.45" cy="791.84" r="7.2" fill="#fff" stroke="#000" stroke-width="3.4"/>
<circle cx="313.45" cy="789.34" r="7.2" fill="#fff" stroke="#000" stroke-width="3.4"/>
<circle cx="316.45" cy="798.58" r="7.2" fill="#fff" stroke="#000" stroke-width="3.4"/>
<circle cx="320.95" cy="778.6" r="7.2" fill="#fff" stroke="#000" stroke-width="3.4"/>
<circle cx="316.45" cy="769.86" r="7.2" fill="#fff" stroke="#000" stroke-width="3.4"/>
<circle cx="350.17" cy="830.55" r="7.2" fill="#fff" stroke="#000" stroke-width="3.4"/>
<circle cx="350.17" cy="808.57" r="7.2" fill="#fff" stroke="#000" stroke-width="3.4"/>
<circle cx="354.67" cy="789.84" r="7.2" fill="#fff" stroke="#000" stroke-width="3.4"/>
<circle cx="346.42" cy="796.83" r="7.2" fill="#fff" stroke="#000" stroke-width="3.4"/>
<circle cx="349.67" cy="786.09" r="7.2" fill="#fff" stroke="#000" stroke-width="3.4"/>
<circle cx="351.42" cy="776.1" r="7.2" fill="#fff" stroke="#000" stroke-width="3.4"/>
<circle cx="383.39" cy="934.7" r="7.2" fill="#fff" stroke="#000" stroke-width="3.4"/>
<circle cx="384.64" cy="927.71" r="7.2" fill="#fff" stroke="#000" stroke-width="3.4"/>
<circle cx="380.89" cy="922.21" r="7.2" fill="#fff" stroke="#000" stroke-width="3.4"/>
<circle cx="379.14" cy="930.96" r="7.2" fill="#fff" stroke="#000" stroke-width="3.4"/>
<circle cx="382.64" cy="910.98" r="7.2" fill="#fff" stroke="#000" stroke-width="3.4"/>
<circle cx="382.64" cy="885.25" r="7.2" fill="#fff" stroke="#000" stroke-width="3.4"/>
<circle cx="415.36" cy="897.74" r="7.2" fill="#fff" stroke="#000" stroke-width="3.4"/>
<circle cx="419.6" cy="871.76" r="7.2" fill="#fff" stroke="#000" stroke-width="3.4"/>
<circle cx="410.86" cy="878.51" r="7.2" fill="#fff" stroke="#000" stroke-width="3.4"/>
<circle cx="415.36" cy="866.02" r="7.2" fill="#fff" stroke="#000" stroke-width="3.4"/>
<circle cx="415.86" cy="846.04" r="7.2" fill="#fff" stroke="#000" stroke-width="3.4"/>
<circle cx="411.61" cy="839.79" r="7.2" fill="#fff" stroke="#000" stroke-width="3.4"/>
<circle cx="419.6" cy="829.3" r="7.2" fill="#fff" stroke="#000" stroke-width="3.4"/>
<circle cx="415.11" cy="825.31" r="7.2" fill="#fff" stroke="#000" stroke-width="3.4"/>
<circle cx="636.07" cy="724.9" r="7.2" fill="#fff" stroke="#000" stroke-width="3.4"/>
<circle cx="642.82" cy="709.42" r="7.2" fill="#fff" stroke="#000" stroke-width="3.4"/>
<circle cx="637.82" cy="711.16" r="7.2" fill="#fff" stroke="#000" stroke-width="3.4"/>
<circle cx="639.32" cy="701.92" r="7.2" fill="#fff" stroke="#000" stroke-width="3.4"/>
<circle cx="639.82" cy="671.95" r="7.2" fill="#fff" stroke="#000" stroke-width="3.4"/>
<circle cx="673.04" cy="739.39" r="7.2" fill="#fff" stroke="#000" stroke-width="3.4"/>
<circle cx="673.04" cy="714.41" r="7.2" fill="#fff" stroke="#000" stroke-width="3.4"/>
<circle cx="673.04" cy="698.18" r="7.2" fill="#fff" stroke="#000" stroke-width="3.4"/>
<circle cx="673.04" cy="682.44" r="7.2" fill="#fff" stroke="#000" stroke-width="3.4"/>
<circle cx="703.51" cy="935.95" r="7.2" fill="#fff" stroke="#000" stroke-width="3.4"/>
<circle cx="706.76" cy="926.71" r="7.2" fill="#fff" stroke="#000" stroke-width="3.4"/>
<circle cx="708.51" cy="919.72" r="7.2" fill="#fff" stroke="#000" stroke-width="3.4"/>
<circle cx="702.26" cy="914.22" r="7.2" fill="#fff" stroke="#000" stroke-width="3.4"/>
<circle cx="741.72" cy="823.06" r="7.2" fill="#fff" stroke="#000" stroke-width="3.4"/>
<circle cx="738.48" cy="817.31" r="7.2" fill="#fff" stroke="#000" stroke-width="3.4"/>
<circle cx="734.73" cy="822.31" r="7.2" fill="#fff" stroke="#000" stroke-width="3.4"/>
<circle cx="739.73" cy="807.82" r="7.2" fill="#fff" stroke="#000" stroke-width="3.4"/>
<circle cx="737.23" cy="801.08" r="7.2" fill="#fff" stroke="#000" stroke-width="3.4"/>
<circle cx="792.18" cy="756.87" r="7.2" fill="#fff" stroke="#000" stroke-width="3.4"/>
<circle cx="792.18" cy="733.64" r="7.2" fill="#fff" stroke="#000" stroke-width="3.4"/>
<circle cx="788.93" cy="724.15" r="7.2" fill="#fff" stroke="#000" stroke-width="3.4"/>
<circle cx="795.92" cy="716.91" r="7.2" fill="#fff" stroke="#000" stroke-width="3.4"/>
<circle cx="788.93" cy="707.42" r="7.2" fill="#fff" stroke="#000" stroke-width="3.4"/>
<circle cx="792.18" cy="694.93" r="7.2" fill="#fff" stroke="#000" stroke-width="3.4"/>
<circle cx="795.92" cy="700.42" r="7.2" fill="#fff" stroke="#000" stroke-width="3.4"/>
<circle cx="792.18" cy="673.7" r="7.2" fill="#fff" stroke="#000" stroke-width="3.4"/>
<circle cx="825.9" cy="799.33" r="7.2" fill="#fff" stroke="#000" stroke-width="3.4"/>
<circle cx="825.15" cy="738.64" r="7.2" fill="#fff" stroke="#000" stroke-width="3.4"/>
<circle cx="825.9" cy="724.9" r="7.2" fill="#fff" stroke="#000" stroke-width="3.4"/>
<circle cx="828.39" cy="716.91" r="7.2" fill="#fff" stroke="#000" stroke-width="3.4"/>
<circle cx="822.65" cy="716.16" r="7.2" fill="#fff" stroke="#000" stroke-width="3.4"/>
<circle cx="825.15" cy="677.45" r="7.2" fill="#fff" stroke="#000" stroke-width="3.4"/>
<circle cx="855.87" cy="934.7" r="7.2" fill="#fff" stroke="#000" stroke-width="3.4"/>
<circle cx="856.62" cy="919.72" r="7.2" fill="#fff" stroke="#000" stroke-width="3.4"/>
<circle cx="855.87" cy="906.73" r="7.2" fill="#fff" stroke="#000" stroke-width="3.4"/>
<circle cx="859.61" cy="907.73" r="7.2" fill="#fff" stroke="#000" stroke-width="3.4"/>
<circle cx="890.08" cy="944.69" r="7.2" fill="#fff" stroke="#000" stroke-width="3.4"/>
<circle cx="890.33" cy="889.75" r="7.2" fill="#fff" stroke="#000" stroke-width="3.4"/>
<circle cx="889.59" cy="877.76" r="7.2" fill="#fff" stroke="#000" stroke-width="3.4"/>
<circle cx="893.33" cy="856.78" r="7.2" fill="#fff" stroke="#000" stroke-width="3.4"/>
<circle cx="887.09" cy="848.53" r="7.2" fill="#fff" stroke="#000" stroke-width="3.4"/>
<circle cx="890.83" cy="862.27" r="7.2" fill="#fff" stroke="#000" stroke-width="3.4"/>
<circle cx="890.83" cy="846.04" r="7.2" fill="#fff" stroke="#000" stroke-width="3.4"/>
<circle cx="1137.8" cy="918.47" r="7.2" fill="#fff" stroke="#000" stroke-width="3.4"/>
<circle cx="1133.56" cy="886.75" r="7.2" fill="#fff" stroke="#000" stroke-width="3.4"/>
<circle cx="1138.55" cy="886.75" r="7.2" fill="#fff" stroke="#000" stroke-width="3.4"/>
<circle cx="1134.31" cy="872.76" r="7.2" fill="#fff" stroke="#000" stroke-width="3.4"/>
<circle cx="1139.8" cy="871.51" r="7.2" fill="#fff" stroke="#000" stroke-width="3.4"/>
<circle cx="1171.02" cy="918.47" r="7.2" fill="#fff" stroke="#000" stroke-width="3.4"/>
<circle cx="1168.52" cy="922.21" r="7.2" fill="#fff" stroke="#000" stroke-width="3.4"/>
<circle cx="1170.27" cy="907.98" r="7.2" fill="#fff" stroke="#000" stroke-width="3.4"/>
<circle cx="1169.77" cy="896.74" r="7.2" fill="#fff" stroke="#000" stroke-width="3.4"/>
<circle cx="1167.28" cy="885.25" r="7.2" fill="#fff" stroke="#000" stroke-width="3.4"/>
<circle cx="1173.52" cy="888.5" r="7.2" fill="#fff" stroke="#000" stroke-width="3.4"/>
<circle cx="1171.77" cy="886" r="7.2" fill="#fff" stroke="#000" stroke-width="3.4"/>
<circle cx="1202.74" cy="799.33" r="7.2" fill="#fff" stroke="#000" stroke-width="3.4"/>
<circle cx="1198.5" cy="783.6" r="7.2" fill="#fff" stroke="#000" stroke-width="3.4"/>
<circle cx="1202.24" cy="786.09" r="7.2" fill="#fff" stroke="#000" stroke-width="3.4"/>
<circle cx="1205.49" cy="776.85" r="7.2" fill="#fff" stroke="#000" stroke-width="3.4"/>
<circle cx="1200.99" cy="774.85" r="7.2" fill="#fff" stroke="#000" stroke-width="3.4"/>
<circle cx="1200.99" cy="753.62" r="7.2" fill="#fff" stroke="#000" stroke-width="3.4"/>
<circle cx="1203.49" cy="748.63" r="7.2" fill="#fff" stroke="#000" stroke-width="3.4"/>
<circle cx="1238.96" cy="864.27" r="7.2" fill="#fff" stroke="#000" stroke-width="3.4"/>
<circle cx="1235.21" cy="853.53" r="7.2" fill="#fff" stroke="#000" stroke-width="3.4"/>
<circle cx="1231.72" cy="859.27" r="7.2" fill="#fff" stroke="#000" stroke-width="3.4"/>
<circle cx="1235.21" cy="844.79" r="7.2" fill="#fff" stroke="#000" stroke-width="3.4"/>
<circle cx="1235.21" cy="827.8" r="7.2" fill="#fff" stroke="#000" stroke-width="3.4"/>
<circle cx="1235.21" cy="813.57" r="7.2" fill="#fff" stroke="#000" stroke-width="3.4"/>
<circle cx="1289.66" cy="921.47" r="7.2" fill="#fff" stroke="#000" stroke-width="3.4"/>
<circle cx="1284.67" cy="926.71" r="7.2" fill="#fff" stroke="#000" stroke-width="3.4"/>
<circle cx="1288.41" cy="910.48" r="7.2" fill="#fff" stroke="#000" stroke-width="3.4"/>
<circle cx="1288.41" cy="890.99" r="7.2" fill="#fff" stroke="#000" stroke-width="3.4"/>
<circle cx="1324.13" cy="920.97" r="7.2" fill="#fff" stroke="#000" stroke-width="3.4"/>
<circle cx="1316.64" cy="927.21" r="7.2" fill="#fff" stroke="#000" stroke-width="3.4"/>
<circle cx="1324.13" cy="907.23" r="7.2" fill="#fff" stroke="#000" stroke-width="3.4"/>
<circle cx="1318.38" cy="907.23" r="7.2" fill="#fff" stroke="#000" stroke-width="3.4"/>
<circle cx="1319.63" cy="917.97" r="7.2" fill="#fff" stroke="#000" stroke-width="3.4"/>
<circle cx="1320.88" cy="823.56" r="7.2" fill="#fff" stroke="#000" stroke-width="3.4"/>
<circle cx="1354.6" cy="814.82" r="7.2" fill="#fff" stroke="#000" stroke-width="3.4"/>
<circle cx="1351.6" cy="819.06" r="7.2" fill="#fff" stroke="#000" stroke-width="3.4"/>
<circle cx="1352.85" cy="801.08" r="7.2" fill="#fff" stroke="#000" stroke-width="3.4"/>
<circle cx="1350.85" cy="787.34" r="7.2" fill="#fff" stroke="#000" stroke-width="3.4"/>
<circle cx="1354.1" cy="784.34" r="7.2" fill="#fff" stroke="#000" stroke-width="3.4"/>
<circle cx="1349.1" cy="760.37" r="7.2" fill="#fff" stroke="#000" stroke-width="3.4"/>
<circle cx="1352.6" cy="748.63" r="7.2" fill="#fff" stroke="#000" stroke-width="3.4"/>
<circle cx="1355.85" cy="756.87" r="7.2" fill="#fff" stroke="#000" stroke-width="3.4"/>
<circle cx="1385.07" cy="813.57" r="7.2" fill="#fff" stroke="#000" stroke-width="3.4"/>
<circle cx="1389.07" cy="764.36" r="7.2" fill="#fff" stroke="#000" stroke-width="3.4"/>
<circle cx="1382.07" cy="767.36" r="7.2" fill="#fff" stroke="#000" stroke-width="3.4"/>
<circle cx="1383.32" cy="733.64" r="7.2" fill="#fff" stroke="#000" stroke-width="3.4"/>
<circle cx="1387.57" cy="739.39" r="7.2" fill="#fff" stroke="#000" stroke-width="3.4"/>
<circle cx="1385.07" cy="723.65" r="7.2" fill="#fff" stroke="#000" stroke-width="3.4"/>
<circle cx="1385.07" cy="697.43" r="7.2" fill="#fff" stroke="#000" stroke-width="3.4"/>
<circle cx="1623.54" cy="868.52" r="7.2" fill="#fff" stroke="#000" stroke-width="3.4"/>
<circle cx="1624.79" cy="856.03" r="7.2" fill="#fff" stroke="#000" stroke-width="3.4"/>
<circle cx="1621.04" cy="846.04" r="7.2" fill="#fff" stroke="#000" stroke-width="3.4"/>
<circle cx="1627.29" cy="848.53" r="7.2" fill="#fff" stroke="#000" stroke-width="3.4"/>
<circle cx="1657.26" cy="855.28" r="7.2" fill="#fff" stroke="#000" stroke-width="3.4"/>
<circle cx="1661" cy="849.28" r="7.2" fill="#fff" stroke="#000" stroke-width="3.4"/>
<circle cx="1658.01" cy="839.79" r="7.2" fill="#fff" stroke="#000" stroke-width="3.4"/>
<circle cx="1653.51" cy="845.29" r="7.2" fill="#fff" stroke="#000" stroke-width="3.4"/>
<circle cx="1691.72" cy="823.56" r="7.2" fill="#fff" stroke="#000" stroke-width="3.4"/>
<circle cx="1689.73" cy="819.81" r="7.2" fill="#fff" stroke="#000" stroke-width="3.4"/>
<circle cx="1687.23" cy="808.57" r="7.2" fill="#fff" stroke="#000" stroke-width="3.4"/>
<circle cx="1690.98" cy="812.32" r="7.2" fill="#fff" stroke="#000" stroke-width="3.4"/>
<circle cx="1688.48" cy="785.59" r="7.2" fill="#fff" stroke="#000" stroke-width="3.4"/>
<circle cx="1689.73" cy="792.84" r="7.2" fill="#fff" stroke="#000" stroke-width="3.4"/>
<circle cx="1718.45" cy="836.05" r="7.2" fill="#fff" stroke="#000" stroke-width="3.4"/>
<circle cx="1722.2" cy="821.06" r="7.2" fill="#fff" stroke="#000" stroke-width="3.4"/>
<circle cx="1723.44" cy="828.55" r="7.2" fill="#fff" stroke="#000" stroke-width="3.4"/>
<circle cx="1724.69" cy="839.04" r="7.2" fill="#fff" stroke="#000" stroke-width="3.4"/>
<circle cx="1722.2" cy="804.08" r="7.2" fill="#fff" stroke="#000" stroke-width="3.4"/>
<circle cx="1772.15" cy="862.77" r="7.2" fill="#fff" stroke="#000" stroke-width="3.4"/>
<circle cx="1777.14" cy="849.28" r="7.2" fill="#fff" stroke="#000" stroke-width="3.4"/>
<circle cx="1774.65" cy="856.78" r="7.2" fill="#fff" stroke="#000" stroke-width="3.4"/>
<circle cx="1774.15" cy="845.29" r="7.2" fill="#fff" stroke="#000" stroke-width="3.4"/>
<circle cx="1804.62" cy="867.27" r="7.2" fill="#fff" stroke="#000" stroke-width="3.4"/>
<circle cx="1807.12" cy="852.28" r="7.2" fill="#fff" stroke="#000" stroke-width="3.4"/>
<circle cx="1811.61" cy="857.78" r="7.2" fill="#fff" stroke="#000" stroke-width="3.4"/>
<circle cx="1810.86" cy="836.8" r="7.2" fill="#fff" stroke="#000" stroke-width="3.4"/>
<circle cx="1807.12" cy="840.29" r="7.2" fill="#fff" stroke="#000" stroke-width="3.4"/>
<circle cx="1805.12" cy="830.55" r="7.2" fill="#fff" stroke="#000" stroke-width="3.4"/>
<circle cx="1839.09" cy="833.55" r="7.2" fill="#fff" stroke="#000" stroke-width="3.4"/>
<circle cx="1840.08" cy="822.31" r="7.2" fill="#fff" stroke="#000" stroke-width="3.4"/>
<circle cx="1836.59" cy="792.84" r="7.2" fill="#fff" stroke="#000" stroke-width="3.4"/>
<circle cx="1843.33" cy="792.34" r="7.2" fill="#fff" stroke="#000" stroke-width="3.4"/>
<circle cx="1839.59" cy="794.09" r="7.2" fill="#fff" stroke="#000" stroke-width="3.4"/>
<circle cx="1840.83" cy="778.6" r="7.2" fill="#fff" stroke="#000" stroke-width="3.4"/>
<circle cx="1871.31" cy="819.81" r="7.2" fill="#fff" stroke="#000" stroke-width="3.4"/>
<circle cx="1873.3" cy="807.82" r="7.2" fill="#fff" stroke="#000" stroke-width="3.4"/>
<circle cx="1872.05" cy="793.59" r="7.2" fill="#fff" stroke="#000" stroke-width="3.4"/>
<circle cx="1875.8" cy="774.85" r="7.2" fill="#fff" stroke="#000" stroke-width="3.4"/>
<circle cx="1872.8" cy="761.62" r="7.2" fill="#fff" stroke="#000" stroke-width="3.4"/>
<circle cx="1869.56" cy="774.1" r="7.2" fill="#fff" stroke="#000" stroke-width="3.4"/>
<circle cx="156.8" cy="1431.9" r="7.2" fill="#fff" stroke="#000" stroke-width="3.4"/>
<circle cx="163.6" cy="1431.9" r="7.2" fill="#fff" stroke="#000" stroke-width="3.4"/>
<circle cx="160.5" cy="1432" r="7.2" fill="#fff" stroke="#000" stroke-width="3.4"/>
<circle cx="191.07" cy="1431.72" r="7.2" fill="#fff" stroke="#000" stroke-width="3.4"/>
<circle cx="196.07" cy="1431.72" r="7.2" fill="#fff" stroke="#000" stroke-width="3.4"/>
<circle cx="193.57" cy="1431.97" r="7.2" fill="#fff" stroke="#000" stroke-width="3.4"/>
<circle cx="223.04" cy="1252.32" r="7.2" fill="#fff" stroke="#000" stroke-width="3.4"/>
<circle cx="226.04" cy="1237.33" r="7.2" fill="#fff" stroke="#000" stroke-width="3.4"/>
<circle cx="229.78" cy="1240.58" r="7.2" fill="#fff" stroke="#000" stroke-width="3.4"/>
<circle cx="223.04" cy="1187.38" r="7.2" fill="#fff" stroke="#000" stroke-width="3.4"/>
<circle cx="228.53" cy="1187.88" r="7.2" fill="#fff" stroke="#000" stroke-width="3.4"/>
<circle cx="226.54" cy="1189.38" r="7.2" fill="#fff" stroke="#000" stroke-width="3.4"/>
<circle cx="256.51" cy="1396.68" r="7.2" fill="#fff" stroke="#000" stroke-width="3.4"/>
<circle cx="259.75" cy="1383.44" r="7.2" fill="#fff" stroke="#000" stroke-width="3.4"/>
<circle cx="262.75" cy="1389.19" r="7.2" fill="#fff" stroke="#000" stroke-width="3.4"/>
<circle cx="259.75" cy="1337.24" r="7.2" fill="#fff" stroke="#000" stroke-width="3.4"/>
<circle cx="256.51" cy="1329.25" r="7.2" fill="#fff" stroke="#000" stroke-width="3.4"/>
<circle cx="262.25" cy="1334.24" r="7.2" fill="#fff" stroke="#000" stroke-width="3.4"/>
<circle cx="311.7" cy="1431.9" r="7.2" fill="#fff" stroke="#000" stroke-width="3.4"/>
<circle cx="317.9" cy="1431.9" r="7.2" fill="#fff" stroke="#000" stroke-width="3.4"/>
<circle cx="315.1" cy="1432" r="7.2" fill="#fff" stroke="#000" stroke-width="3.4"/>
<circle cx="344.9" cy="1431.9" r="7.2" fill="#fff" stroke="#000" stroke-width="3.4"/>
<circle cx="351" cy="1431.9" r="7.2" fill="#fff" stroke="#000" stroke-width="3.4"/>
<circle cx="347.9" cy="1432" r="7.2" fill="#fff" stroke="#000" stroke-width="3.4"/>
<circle cx="380.89" cy="1333.99" r="7.2" fill="#fff" stroke="#000" stroke-width="3.4"/>
<circle cx="382.14" cy="1274.05" r="7.2" fill="#fff" stroke="#000" stroke-width="3.4"/>
<circle cx="383.39" cy="1246.07" r="7.2" fill="#fff" stroke="#000" stroke-width="3.4"/>
<circle cx="377.64" cy="1239.83" r="7.2" fill="#fff" stroke="#000" stroke-width="3.4"/>
<circle cx="380.89" cy="1239.33" r="7.2" fill="#fff" stroke="#000" stroke-width="3.4"/>
<circle cx="417.61" cy="1317.26" r="7.2" fill="#fff" stroke="#000" stroke-width="3.4"/>
<circle cx="410.86" cy="1319.75" r="7.2" fill="#fff" stroke="#000" stroke-width="3.4"/>
<circle cx="412.11" cy="1301.02" r="7.2" fill="#fff" stroke="#000" stroke-width="3.4"/>
<circle cx="415.86" cy="1303.52" r="7.2" fill="#fff" stroke="#000" stroke-width="3.4"/>
<circle cx="414.11" cy="1254.82" r="7.2" fill="#fff" stroke="#000" stroke-width="3.4"/>
<circle cx="634.83" cy="1432.97" r="7.2" fill="#fff" stroke="#000" stroke-width="3.4"/>
<circle cx="629.83" cy="1432.97" r="7.2" fill="#fff" stroke="#000" stroke-width="3.4"/>
<circle cx="664.8" cy="1432.97" r="7.2" fill="#fff" stroke="#000" stroke-width="3.4"/>
<circle cx="669.79" cy="1432.97" r="7.2" fill="#fff" stroke="#000" stroke-width="3.4"/>
<circle cx="667.3" cy="1433.22" r="7.2" fill="#fff" stroke="#000" stroke-width="3.4"/>
<circle cx="701.01" cy="1337.31" r="7.2" fill="#fff" stroke="#000" stroke-width="3.4"/>
<circle cx="704.76" cy="1300.6" r="7.2" fill="#fff" stroke="#000" stroke-width="3.4"/>
<circle cx="697.27" cy="1291.35" r="7.2" fill="#fff" stroke="#000" stroke-width="3.4"/>
<circle cx="701.01" cy="1258.89" r="7.2" fill="#fff" stroke="#000" stroke-width="3.4"/>
<circle cx="701.01" cy="1236.16" r="7.2" fill="#fff" stroke="#000" stroke-width="3.4"/>
<circle cx="701.01" cy="1204.44" r="7.2" fill="#fff" stroke="#000" stroke-width="3.4"/>
<circle cx="734.73" cy="1409.99" r="7.2" fill="#fff" stroke="#000" stroke-width="3.4"/>
<circle cx="730.98" cy="1388.01" r="7.2" fill="#fff" stroke="#000" stroke-width="3.4"/>
<circle cx="738.48" cy="1385.52" r="7.2" fill="#fff" stroke="#000" stroke-width="3.4"/>
<circle cx="733.48" cy="1383.02" r="7.2" fill="#fff" stroke="#000" stroke-width="3.4"/>
<circle cx="735.23" cy="1386.76" r="7.2" fill="#fff" stroke="#000" stroke-width="3.4"/>
<circle cx="734.73" cy="1372.28" r="7.2" fill="#fff" stroke="#000" stroke-width="3.4"/>
<circle cx="792.68" cy="1433.47" r="7.2" fill="#fff" stroke="#000" stroke-width="3.4"/>
<circle cx="788.43" cy="1429.22" r="7.2" fill="#fff" stroke="#000" stroke-width="3.4"/>
<circle cx="822.15" cy="1432.97" r="7.2" fill="#fff" stroke="#000" stroke-width="3.4"/>
<circle cx="827.14" cy="1432.97" r="7.2" fill="#fff" stroke="#000" stroke-width="3.4"/>
<circle cx="824.65" cy="1433.22" r="7.2" fill="#fff" stroke="#000" stroke-width="3.4"/>
<circle cx="854.62" cy="1352.3" r="7.2" fill="#fff" stroke="#000" stroke-width="3.4"/>
<circle cx="860.86" cy="1339.81" r="7.2" fill="#fff" stroke="#000" stroke-width="3.4"/>
<circle cx="854.62" cy="1330.57" r="7.2" fill="#fff" stroke="#000" stroke-width="3.4"/>
<circle cx="857.87" cy="1295.1" r="7.2" fill="#fff" stroke="#000" stroke-width="3.4"/>
<circle cx="860.86" cy="1265.63" r="7.2" fill="#fff" stroke="#000" stroke-width="3.4"/>
<circle cx="855.12" cy="1260.63" r="7.2" fill="#fff" stroke="#000" stroke-width="3.4"/>
<circle cx="888.34" cy="1356.79" r="7.2" fill="#fff" stroke="#000" stroke-width="3.4"/>
<circle cx="895.83" cy="1351.3" r="7.2" fill="#fff" stroke="#000" stroke-width="3.4"/>
<circle cx="894.58" cy="1341.81" r="7.2" fill="#fff" stroke="#000" stroke-width="3.4"/>
<circle cx="892.08" cy="1347.55" r="7.2" fill="#fff" stroke="#000" stroke-width="3.4"/>
<circle cx="892.08" cy="1328.07" r="7.2" fill="#fff" stroke="#000" stroke-width="3.4"/>
<circle cx="1130.64" cy="1431.59" r="7.2" fill="#fff" stroke="#000" stroke-width="3.4"/>
<circle cx="1132.15" cy="1431.29" r="7.2" fill="#fff" stroke="#000" stroke-width="3.4"/>
<circle cx="1133.66" cy="1431.59" r="7.2" fill="#fff" stroke="#000" stroke-width="3.4"/>
<circle cx="1135.17" cy="1431.74" r="7.2" fill="#fff" stroke="#000" stroke-width="3.4"/>
<circle cx="1169.77" cy="1432.22" r="7.2" fill="#fff" stroke="#000" stroke-width="3.4"/>
<circle cx="1164.78" cy="1432.22" r="7.2" fill="#fff" stroke="#000" stroke-width="3.4"/>
<circle cx="1199.95" cy="1299.77" r="7.2" fill="#fff" stroke="#000" stroke-width="3.4"/>
<circle cx="1199.95" cy="1275.3" r="7.2" fill="#fff" stroke="#000" stroke-width="3.4"/>
<circle cx="1203.7" cy="1244.08" r="7.2" fill="#fff" stroke="#000" stroke-width="3.4"/>
<circle cx="1196.21" cy="1245.57" r="7.2" fill="#fff" stroke="#000" stroke-width="3.4"/>
<circle cx="1199.95" cy="1232.34" r="7.2" fill="#fff" stroke="#000" stroke-width="3.4"/>
<circle cx="1199.95" cy="1180.39" r="7.2" fill="#fff" stroke="#000" stroke-width="3.4"/>
<circle cx="1229.92" cy="1400.93" r="7.2" fill="#fff" stroke="#000" stroke-width="3.4"/>
<circle cx="1236.17" cy="1398.43" r="7.2" fill="#fff" stroke="#000" stroke-width="3.4"/>
<circle cx="1233.67" cy="1375.45" r="7.2" fill="#fff" stroke="#000" stroke-width="3.4"/>
<circle cx="1233.67" cy="1339.24" r="7.2" fill="#fff" stroke="#000" stroke-width="3.4"/>
<circle cx="1233.67" cy="1324.75" r="7.2" fill="#fff" stroke="#000" stroke-width="3.4"/>
<circle cx="1286" cy="1431.59" r="7.2" fill="#fff" stroke="#000" stroke-width="3.4"/>
<circle cx="1291.43" cy="1431.59" r="7.2" fill="#fff" stroke="#000" stroke-width="3.4"/>
<circle cx="1287.81" cy="1431.89" r="7.2" fill="#fff" stroke="#000" stroke-width="3.4"/>
<circle cx="1319.18" cy="1431.59" r="7.2" fill="#fff" stroke="#000" stroke-width="3.4"/>
<circle cx="1324.61" cy="1431.59" r="7.2" fill="#fff" stroke="#000" stroke-width="3.4"/>
<circle cx="1321.14" cy="1431.89" r="7.2" fill="#fff" stroke="#000" stroke-width="3.4"/>
<circle cx="1354.81" cy="1359.22" r="7.2" fill="#fff" stroke="#000" stroke-width="3.4"/>
<circle cx="1354.81" cy="1337.24" r="7.2" fill="#fff" stroke="#000" stroke-width="3.4"/>
<circle cx="1354.81" cy="1329.25" r="7.2" fill="#fff" stroke="#000" stroke-width="3.4"/>
<circle cx="1358.55" cy="1268.55" r="7.2" fill="#fff" stroke="#000" stroke-width="3.4"/>
<circle cx="1351.06" cy="1272.8" r="7.2" fill="#fff" stroke="#000" stroke-width="3.4"/>
<circle cx="1354.81" cy="1274.3" r="7.2" fill="#fff" stroke="#000" stroke-width="3.4"/>
<circle cx="1384.78" cy="1391.69" r="7.2" fill="#fff" stroke="#000" stroke-width="3.4"/>
<circle cx="1391.77" cy="1390.19" r="7.2" fill="#fff" stroke="#000" stroke-width="3.4"/>
<circle cx="1388.52" cy="1326.75" r="7.2" fill="#fff" stroke="#000" stroke-width="3.4"/>
<circle cx="1388.52" cy="1317.26" r="7.2" fill="#fff" stroke="#000" stroke-width="3.4"/>
<circle cx="1388.52" cy="1300.27" r="7.2" fill="#fff" stroke="#000" stroke-width="3.4"/>
</g>
<g id="plines">
<line x1="265.2" y1="99.9" x2="298" y2="99.9" stroke="#000" stroke-width="3.5"/>
<line x1="308.4" y1="121.1" x2="450.8" y2="121.1" stroke="#000" stroke-width="3.5"/>
<line x1="706" y1="78.2" x2="739.8" y2="78.2" stroke="#000" stroke-width="3.5"/>
<line x1="866.4" y1="79.4" x2="900.3" y2="79.4" stroke="#000" stroke-width="3.5"/>
<line x1="750.5" y1="118.4" x2="898.9" y2="118.4" stroke="#000" stroke-width="3.5"/>
<line x1="1147.3" y1="86.2" x2="1181.7" y2="86.2" stroke="#000" stroke-width="3.5"/>
<line x1="1309.6" y1="86.9" x2="1344.1" y2="86.9" stroke="#000" stroke-width="3.5"/>
<line x1="1192.2" y1="129.4" x2="1342.6" y2="129.4" stroke="#000" stroke-width="3.5"/>
<line x1="267.2" y1="693.7" x2="413.3" y2="693.7" stroke="#000" stroke-width="3.5"/>
<line x1="745.5" y1="658" x2="892.5" y2="658" stroke="#000" stroke-width="3.5"/>
<line x1="1238.4" y1="680.7" x2="1382.8" y2="680.7" stroke="#000" stroke-width="3.5"/>
<line x1="1724.7" y1="721.6" x2="1870.8" y2="721.6" stroke="#000" stroke-width="3.5"/>
<line x1="219.3" y1="1169.4" x2="253.5" y2="1169.4" stroke="#000" stroke-width="3.5"/>
<line x1="263.5" y1="1210.6" x2="412.1" y2="1210.6" stroke="#000" stroke-width="3.5"/>
<line x1="693.5" y1="1167.5" x2="728.5" y2="1167.5" stroke="#000" stroke-width="3.5"/>
<line x1="856.6" y1="1168.7" x2="890.8" y2="1168.7" stroke="#000" stroke-width="3.5"/>
<line x1="739" y1="1230" x2="889.6" y2="1230" stroke="#000" stroke-width="3.5"/>
<line x1="1193" y1="1159.4" x2="1226.9" y2="1159.4" stroke="#000" stroke-width="3.5"/>
</g>
<g id="legend">
<rect x="1408.2" y="85.8" width="17.4" height="17.4" fill="#000" stroke="#1f1f1f" stroke-width="3"/>
<rect x="1408.2" y="122.5" width="17.4" height="17.4" fill="#dedede" stroke="#1f1f1f" stroke-width="3"/>
<rect x="1408.2" y="159.1" width="17.4" height="17.4" fill="#e5763d" stroke="#1f1f1f" stroke-width="3"/>
<rect x="1408.2" y="195.7" width="17.4" height="17.4" fill="#cc1626" stroke="#1f1f1f" stroke-width="3"/>
<rect x="1933.8" y="663.4" width="17.4" height="17.4" fill="#000" stroke="#1f1f1f" stroke-width="3"/>
<rect x="1933.8" y="699.7" width="17.4" height="17.4" fill="#e5c06c" stroke="#1f1f1f" stroke-width="3"/>
<rect x="1933.8" y="736.4" width="17.4" height="17.4" fill="#056b8e" stroke="#1f1f1f" stroke-width="3"/>
<rect x="1933.8" y="773.3" width="17.4" height="17.4" fill="#1d9b6c" stroke="#1f1f1f" stroke-width="3"/>
<rect x="1448.8" y="1153.5" width="17.4" height="17.4" fill="#000" stroke="#1f1f1f" stroke-width="3"/>
<rect x="1448.8" y="1190.1" width="17.4" height="17.4" fill="#e5c06c" stroke="#1f1f1f" stroke-width="3"/>
<rect x="1448.8" y="1226.7" width="17.4" height="17.4" fill="#056b8e" stroke="#1f1f1f" stroke-width="3"/>
<rect x="1448.8" y="1263.3" width="17.4" height="17.4" fill="#1d9b6c" stroke="#1f1f1f" stroke-width="3"/>
</g>
<g id="text">
<text transform="translate(-0.6 25.8) scale(1 0.975)" font-size="49.5" fill="#222" font-weight="bold">a</text>
<text transform="translate(104 94.4)" font-size="33" fill="#000" stroke="#000" stroke-width="0.3" stroke-linejoin="round">0.25</text>
<text transform="translate(103.75 150.5)" font-size="33" fill="#000" stroke="#000" stroke-width="0.3" stroke-linejoin="round">0.20</text>
<text transform="translate(104 206.5)" font-size="33" fill="#000" stroke="#000" stroke-width="0.3" stroke-linejoin="round">0.15</text>
<text transform="translate(103.75 262.5)" font-size="33" fill="#000" stroke="#000" stroke-width="0.3" stroke-linejoin="round">0.10</text>
<text transform="translate(104 318.4)" font-size="33" fill="#000" stroke="#000" stroke-width="0.3" stroke-linejoin="round">0.05</text>
<text transform="translate(103.75 374.4)" font-size="33" fill="#000" stroke="#000" stroke-width="0.3" stroke-linejoin="round">0.00</text>
<text transform="translate(229.28 93.6) scale(1 1.01)" font-size="24" fill="#000" letter-spacing="-1.467" stroke="#000" stroke-width="0.45" stroke-linejoin="round"><tspan font-style="italic">P</tspan> = 0.0001</text>
<text transform="translate(332.88 114.3) scale(1 1.01)" font-size="24" fill="#000" letter-spacing="-1.311" stroke="#000" stroke-width="0.45" stroke-linejoin="round"><tspan font-style="italic">P</tspan> = 0.0001</text>
<text transform="translate(74.9 306.15) rotate(-90)" font-size="30" fill="#000" letter-spacing="0.317">IL-1β (ng/ml)</text>
<text transform="translate(202.12 403.1)" font-size="32" fill="#1c1c1c" stroke="#1c1c1c" stroke-width="0.2" stroke-linejoin="round">-</text>
<text transform="translate(229.5 406.08)" font-size="31" fill="#1c1c1c" stroke="#1c1c1c" stroke-width="0.2" stroke-linejoin="round">+</text>
<text transform="translate(266.62 403.1)" font-size="32" fill="#1c1c1c" stroke="#1c1c1c" stroke-width="0.2" stroke-linejoin="round">-</text>
<text transform="translate(292.5 406.08)" font-size="31" fill="#1c1c1c" stroke="#1c1c1c" stroke-width="0.2" stroke-linejoin="round">+</text>
<text transform="translate(350.02 403.1)" font-size="32" fill="#1c1c1c" stroke="#1c1c1c" stroke-width="0.2" stroke-linejoin="round">-</text>
<text transform="translate(377.6 406.08)" font-size="31" fill="#1c1c1c" stroke="#1c1c1c" stroke-width="0.2" stroke-linejoin="round">+</text>
<text transform="translate(416.23 403.1)" font-size="32" fill="#1c1c1c" stroke="#1c1c1c" stroke-width="0.2" stroke-linejoin="round">-</text>
<text transform="translate(440.6 406.08)" font-size="31" fill="#1c1c1c" stroke="#1c1c1c" stroke-width="0.2" stroke-linejoin="round">+</text>
<text transform="translate(201.93 434.7)" font-size="32" fill="#1c1c1c" stroke="#1c1c1c" stroke-width="0.2" stroke-linejoin="round">-</text>
<text transform="translate(233.12 433.8)" font-size="32" fill="#1c1c1c" stroke="#1c1c1c" stroke-width="0.2" stroke-linejoin="round">-</text>
<text transform="translate(264.5 437.07)" font-size="31" fill="#1c1c1c" stroke="#1c1c1c" stroke-width="0.2" stroke-linejoin="round">+</text>
<text transform="translate(292.5 437.07)" font-size="31" fill="#1c1c1c" stroke="#1c1c1c" stroke-width="0.2" stroke-linejoin="round">+</text>
<text transform="translate(350.02 434.7)" font-size="32" fill="#1c1c1c" stroke="#1c1c1c" stroke-width="0.2" stroke-linejoin="round">-</text>
<text transform="translate(381.23 433.8)" font-size="32" fill="#1c1c1c" stroke="#1c1c1c" stroke-width="0.2" stroke-linejoin="round">-</text>
<text transform="translate(412.6 437.07)" font-size="31" fill="#1c1c1c" stroke="#1c1c1c" stroke-width="0.2" stroke-linejoin="round">+</text>
<text transform="translate(440.6 437.07)" font-size="31" fill="#1c1c1c" stroke="#1c1c1c" stroke-width="0.2" stroke-linejoin="round">+</text>
<text transform="translate(126.55 407.2) scale(1 1.07)" font-size="32" fill="#1c1c1c" letter-spacing="-0.450" stroke="#1c1c1c" stroke-width="0.3" stroke-linejoin="round">GC</text>
<text transform="translate(112.65 440) scale(1 1.07)" font-size="32" fill="#1c1c1c" letter-spacing="0.600" stroke="#1c1c1c" stroke-width="0.3" stroke-linejoin="round">LPS</text>
<text transform="translate(184.32 477.5) scale(1 0.98)" font-size="32" fill="#000" letter-spacing="-0.207" stroke="#000" stroke-width="0.45" stroke-linejoin="round">Normoxia</text>
<text transform="translate(355.12 477.8) scale(1 0.98)" font-size="32" fill="#000" letter-spacing="-0.183" stroke="#000" stroke-width="0.45" stroke-linejoin="round">1% O</text>
<text transform="translate(436.4 486)" font-size="22.5" fill="#000" stroke="#000" stroke-width="0.4" stroke-linejoin="round">2</text>
<text transform="translate(587.45 95.9)" font-size="33" fill="#000" stroke="#000" stroke-width="0.3" stroke-linejoin="round">3</text>
<text transform="translate(587.7 189)" font-size="33" fill="#000" stroke="#000" stroke-width="0.3" stroke-linejoin="round">2</text>
<text transform="translate(587.7 281.5)" font-size="33" fill="#000" stroke="#000" stroke-width="0.3" stroke-linejoin="round">1</text>
<text transform="translate(587.45 373.9)" font-size="33" fill="#000" stroke="#000" stroke-width="0.3" stroke-linejoin="round">0</text>
<text transform="translate(668.77 72.4) scale(1 1.01)" font-size="24" fill="#000" letter-spacing="-0.756" stroke="#000" stroke-width="0.45" stroke-linejoin="round"><tspan font-style="italic">P</tspan> = 0.0001</text>
<text transform="translate(835.88 72.6) scale(1 1.01)" font-size="24" fill="#000" letter-spacing="-0.656" stroke="#000" stroke-width="0.45" stroke-linejoin="round"><tspan font-style="italic">P</tspan> = 0.003</text>
<text transform="translate(774.18 111.9) scale(1 1.01)" font-size="24" fill="#000" letter-spacing="-0.594" stroke="#000" stroke-width="0.45" stroke-linejoin="round"><tspan font-style="italic">P</tspan> = 0.007</text>
<text transform="translate(566.9 302.45) rotate(-90)" font-size="30" fill="#000" letter-spacing="0.441">IL-6 (ng/ml)</text>
<text transform="translate(640.62 403.1)" font-size="32" fill="#1c1c1c" stroke="#1c1c1c" stroke-width="0.2" stroke-linejoin="round">-</text>
<text transform="translate(667.6 406.08)" font-size="31" fill="#1c1c1c" stroke="#1c1c1c" stroke-width="0.2" stroke-linejoin="round">+</text>
<text transform="translate(706.12 403.1)" font-size="32" fill="#1c1c1c" stroke="#1c1c1c" stroke-width="0.2" stroke-linejoin="round">-</text>
<text transform="translate(735.3 406.08)" font-size="31" fill="#1c1c1c" stroke="#1c1c1c" stroke-width="0.2" stroke-linejoin="round">+</text>
<text transform="translate(793.12 403.1)" font-size="32" fill="#1c1c1c" stroke="#1c1c1c" stroke-width="0.2" stroke-linejoin="round">-</text>
<text transform="translate(819 406.08)" font-size="31" fill="#1c1c1c" stroke="#1c1c1c" stroke-width="0.2" stroke-linejoin="round">+</text>
<text transform="translate(858.02 403.1)" font-size="32" fill="#1c1c1c" stroke="#1c1c1c" stroke-width="0.2" stroke-linejoin="round">-</text>
<text transform="translate(887 406.08)" font-size="31" fill="#1c1c1c" stroke="#1c1c1c" stroke-width="0.2" stroke-linejoin="round">+</text>
<text transform="translate(640.62 434.7)" font-size="32" fill="#1c1c1c" stroke="#1c1c1c" stroke-width="0.2" stroke-linejoin="round">-</text>
<text transform="translate(671.23 433.8)" font-size="32" fill="#1c1c1c" stroke="#1c1c1c" stroke-width="0.2" stroke-linejoin="round">-</text>
<text transform="translate(703.3 437.07)" font-size="31" fill="#1c1c1c" stroke="#1c1c1c" stroke-width="0.2" stroke-linejoin="round">+</text>
<text transform="translate(735.3 437.07)" font-size="31" fill="#1c1c1c" stroke="#1c1c1c" stroke-width="0.2" stroke-linejoin="round">+</text>
<text transform="translate(793.12 434.7)" font-size="32" fill="#1c1c1c" stroke="#1c1c1c" stroke-width="0.2" stroke-linejoin="round">-</text>
<text transform="translate(822.62 433.8)" font-size="32" fill="#1c1c1c" stroke="#1c1c1c" stroke-width="0.2" stroke-linejoin="round">-</text>
<text transform="translate(855.1 437.07)" font-size="31" fill="#1c1c1c" stroke="#1c1c1c" stroke-width="0.2" stroke-linejoin="round">+</text>
<text transform="translate(887 437.07)" font-size="31" fill="#1c1c1c" stroke="#1c1c1c" stroke-width="0.2" stroke-linejoin="round">+</text>
<text transform="translate(565.45 407.2) scale(1 1.07)" font-size="32" fill="#1c1c1c" letter-spacing="-0.450" stroke="#1c1c1c" stroke-width="0.3" stroke-linejoin="round">GC</text>
<text transform="translate(551.65 440.4) scale(1 1.07)" font-size="32" fill="#1c1c1c" letter-spacing="0.350" stroke="#1c1c1c" stroke-width="0.3" stroke-linejoin="round">LPS</text>
<text transform="translate(626.12 477.5) scale(1 0.98)" font-size="32" fill="#000" letter-spacing="-0.207" stroke="#000" stroke-width="0.45" stroke-linejoin="round">Normoxia</text>
<text transform="translate(808.33 477.8) scale(1 0.98)" font-size="32" fill="#000" letter-spacing="-1.683" stroke="#000" stroke-width="0.45" stroke-linejoin="round">1% O</text>
<text transform="translate(885.2 490)" font-size="22.5" fill="#000" stroke="#000" stroke-width="0.4" stroke-linejoin="round">2</text>
<text transform="translate(1023.15 95.8)" font-size="33" fill="#000" stroke="#000" stroke-width="0.3" stroke-linejoin="round">4</text>
<text transform="translate(1023.65 164.2)" font-size="33" fill="#000" stroke="#000" stroke-width="0.3" stroke-linejoin="round">3</text>
<text transform="translate(1023.9 232.5)" font-size="33" fill="#000" stroke="#000" stroke-width="0.3" stroke-linejoin="round">2</text>
<text transform="translate(1023.9 301)" font-size="33" fill="#000" stroke="#000" stroke-width="0.3" stroke-linejoin="round">1</text>
<text transform="translate(1023.65 369.7)" font-size="33" fill="#000" stroke="#000" stroke-width="0.3" stroke-linejoin="round">0</text>
<text transform="translate(1128.47 79.9) scale(1 1.01)" font-size="24" fill="#000" letter-spacing="-0.394" stroke="#000" stroke-width="0.45" stroke-linejoin="round"><tspan font-style="italic">P</tspan> = 0.044</text>
<text transform="translate(1274.17 81.7) scale(1 1.01)" font-size="24" fill="#000" letter-spacing="-0.344" stroke="#000" stroke-width="0.45" stroke-linejoin="round"><tspan font-style="italic">P</tspan> = 0.034</text>
<text transform="translate(1216.67 122.9) scale(1 1.01)" font-size="24" fill="#000" letter-spacing="-0.281" stroke="#000" stroke-width="0.45" stroke-linejoin="round"><tspan font-style="italic">P</tspan> = 0.042</text>
<text transform="translate(1001.9 300.45) rotate(-90)" font-size="30" fill="#000" letter-spacing="0.230">TNF (ng/ml)</text>
<text transform="translate(1085.22 403.1)" font-size="32" fill="#1c1c1c" stroke="#1c1c1c" stroke-width="0.2" stroke-linejoin="round">-</text>
<text transform="translate(1115.3 406.08)" font-size="31" fill="#1c1c1c" stroke="#1c1c1c" stroke-width="0.2" stroke-linejoin="round">+</text>
<text transform="translate(1149.92 403.1)" font-size="32" fill="#1c1c1c" stroke="#1c1c1c" stroke-width="0.2" stroke-linejoin="round">-</text>
<text transform="translate(1179.5 406.08)" font-size="31" fill="#1c1c1c" stroke="#1c1c1c" stroke-width="0.2" stroke-linejoin="round">+</text>
<text transform="translate(1245.03 403.1)" font-size="32" fill="#1c1c1c" stroke="#1c1c1c" stroke-width="0.2" stroke-linejoin="round">-</text>
<text transform="translate(1271.4 406.08)" font-size="31" fill="#1c1c1c" stroke="#1c1c1c" stroke-width="0.2" stroke-linejoin="round">+</text>
<text transform="translate(1310.03 403.1)" font-size="32" fill="#1c1c1c" stroke="#1c1c1c" stroke-width="0.2" stroke-linejoin="round">-</text>
<text transform="translate(1335.6 406.08)" font-size="31" fill="#1c1c1c" stroke="#1c1c1c" stroke-width="0.2" stroke-linejoin="round">+</text>
<text transform="translate(1085.22 434.7)" font-size="32" fill="#1c1c1c" stroke="#1c1c1c" stroke-width="0.2" stroke-linejoin="round">-</text>
<text transform="translate(1118.92 433.8)" font-size="32" fill="#1c1c1c" stroke="#1c1c1c" stroke-width="0.2" stroke-linejoin="round">-</text>
<text transform="translate(1147.5 437.07)" font-size="31" fill="#1c1c1c" stroke="#1c1c1c" stroke-width="0.2" stroke-linejoin="round">+</text>
<text transform="translate(1179.5 437.07)" font-size="31" fill="#1c1c1c" stroke="#1c1c1c" stroke-width="0.2" stroke-linejoin="round">+</text>
<text transform="translate(1245.03 434.7)" font-size="32" fill="#1c1c1c" stroke="#1c1c1c" stroke-width="0.2" stroke-linejoin="round">-</text>
<text transform="translate(1275.03 433.8)" font-size="32" fill="#1c1c1c" stroke="#1c1c1c" stroke-width="0.2" stroke-linejoin="round">-</text>
<text transform="translate(1307.6 437.07)" font-size="31" fill="#1c1c1c" stroke="#1c1c1c" stroke-width="0.2" stroke-linejoin="round">+</text>
<text transform="translate(1335.6 437.07)" font-size="31" fill="#1c1c1c" stroke="#1c1c1c" stroke-width="0.2" stroke-linejoin="round">+</text>
<text transform="translate(1021.65 407.2) scale(1 1.07)" font-size="32" fill="#1c1c1c" letter-spacing="-1.150" stroke="#1c1c1c" stroke-width="0.3" stroke-linejoin="round">GC</text>
<text transform="translate(1007.85 440.2) scale(1 1.07)" font-size="32" fill="#1c1c1c" letter-spacing="-0.050" stroke="#1c1c1c" stroke-width="0.3" stroke-linejoin="round">LPS</text>
<text transform="translate(1066.32 477.5) scale(1 0.98)" font-size="32" fill="#000" letter-spacing="-0.307" stroke="#000" stroke-width="0.45" stroke-linejoin="round">Normoxia</text>
<text transform="translate(1252.62 477.8) scale(1 0.98)" font-size="32" fill="#000" letter-spacing="-0.383" stroke="#000" stroke-width="0.45" stroke-linejoin="round">1% O</text>
<text transform="translate(1333.5 486)" font-size="22.5" fill="#000" stroke="#000" stroke-width="0.4" stroke-linejoin="round">2</text>
<text transform="translate(1452.2 104.8) scale(1 1.04)" font-size="32" fill="#1c1c1c" stroke="#1c1c1c" stroke-width="0.4" stroke-linejoin="round">Ctrl</text>
<text transform="translate(1452.2 140.4) scale(1 1.04)" font-size="32" fill="#1c1c1c" stroke="#1c1c1c" stroke-width="0.4" stroke-linejoin="round">GC</text>
<text transform="translate(1451.2 176.9) scale(1 1.04)" font-size="32" fill="#1c1c1c" stroke="#1c1c1c" stroke-width="0.4" stroke-linejoin="round">LPS</text>
<text transform="translate(1452.2 213.3) scale(1 1.04)" font-size="32" fill="#1c1c1c" stroke="#1c1c1c" stroke-width="0.4" stroke-linejoin="round">GC + LPS</text>
<text transform="translate(-1.15 596.8) scale(1 0.975)" font-size="49.5" fill="#222" font-weight="bold">b</text>
<text transform="translate(88.25 670.1)" font-size="33" fill="#000" stroke="#000" stroke-width="0.3" stroke-linejoin="round">60</text>
<text transform="translate(88.25 766.1)" font-size="33" fill="#000" stroke="#000" stroke-width="0.3" stroke-linejoin="round">40</text>
<text transform="translate(88.25 861.7)" font-size="33" fill="#000" stroke="#000" stroke-width="0.3" stroke-linejoin="round">20</text>
<text transform="translate(106.75 956.8)" font-size="33" fill="#000" stroke="#000" stroke-width="0.3" stroke-linejoin="round">0</text>
<text transform="translate(299.18 687.9) scale(1 1.01)" font-size="24" fill="#000" letter-spacing="-1.100" stroke="#000" stroke-width="0.45" stroke-linejoin="round"><tspan font-style="italic">P</tspan> = 0.005</text>
<text transform="translate(74.4 908.7) rotate(-90)" font-size="30" fill="#000" letter-spacing="1.227">OCR (pmol/min)</text>
<text transform="translate(183.38 989.8) scale(1 0.98)" font-size="32" fill="#000" letter-spacing="0.700" stroke="#000" stroke-width="0.45" stroke-linejoin="round">Veh</text>
<text transform="translate(332.33 989.8) scale(1 0.98)" font-size="32" fill="#000" letter-spacing="0.325" stroke="#000" stroke-width="0.45" stroke-linejoin="round">RXD</text>
<text transform="translate(172.4 614.4) scale(1 0.97)" font-size="32" fill="#1c1c1c" letter-spacing="0.216" stroke="#1c1c1c" stroke-width="0.4" stroke-linejoin="round">Basal respiration</text>
<text transform="translate(541.5 666.3)" font-size="33" fill="#000" stroke="#000" stroke-width="0.3" stroke-linejoin="round">100</text>
<text transform="translate(559.75 724.2)" font-size="33" fill="#000" stroke="#000" stroke-width="0.3" stroke-linejoin="round">80</text>
<text transform="translate(559.75 781.7)" font-size="33" fill="#000" stroke="#000" stroke-width="0.3" stroke-linejoin="round">60</text>
<text transform="translate(559.75 839.3)" font-size="33" fill="#000" stroke="#000" stroke-width="0.3" stroke-linejoin="round">40</text>
<text transform="translate(559.75 896.8)" font-size="33" fill="#000" stroke="#000" stroke-width="0.3" stroke-linejoin="round">20</text>
<text transform="translate(578.25 954.3)" font-size="33" fill="#000" stroke="#000" stroke-width="0.3" stroke-linejoin="round">0</text>
<text transform="translate(770.38 651.2) scale(1 1.01)" font-size="24" fill="#000" letter-spacing="-1.389" stroke="#000" stroke-width="0.45" stroke-linejoin="round"><tspan font-style="italic">P</tspan> = 0.0001</text>
<text transform="translate(531.2 907) rotate(-90)" font-size="30" fill="#000" letter-spacing="1.173">OCR (pmol/min)</text>
<text transform="translate(662.17 989.8) scale(1 0.98)" font-size="32" fill="#000" letter-spacing="0.650" stroke="#000" stroke-width="0.45" stroke-linejoin="round">Veh</text>
<text transform="translate(807.73 989.8) scale(1 0.98)" font-size="32" fill="#000" letter-spacing="0.125" stroke="#000" stroke-width="0.45" stroke-linejoin="round">RXD</text>
<text transform="translate(629.4 614.6) scale(1 0.97)" font-size="32" fill="#1c1c1c" letter-spacing="0.203" stroke="#1c1c1c" stroke-width="0.4" stroke-linejoin="round">Maximal respiration</text>
<text transform="translate(1060.25 670.1)" font-size="33" fill="#000" stroke="#000" stroke-width="0.3" stroke-linejoin="round">80</text>
<text transform="translate(1060.25 741.2)" font-size="33" fill="#000" stroke="#000" stroke-width="0.3" stroke-linejoin="round">60</text>
<text transform="translate(1060.25 812.4)" font-size="33" fill="#000" stroke="#000" stroke-width="0.3" stroke-linejoin="round">40</text>
<text transform="translate(1060.25 883.6)" font-size="33" fill="#000" stroke="#000" stroke-width="0.3" stroke-linejoin="round">20</text>
<text transform="translate(1078.75 954.8)" font-size="33" fill="#000" stroke="#000" stroke-width="0.3" stroke-linejoin="round">0</text>
<text transform="translate(1262.88 673.7) scale(1 1.01)" font-size="24" fill="#000" letter-spacing="-1.311" stroke="#000" stroke-width="0.45" stroke-linejoin="round"><tspan font-style="italic">P</tspan> = 0.0001</text>
<text transform="translate(1039.1 923.5) rotate(-90)" font-size="30" fill="#000" letter-spacing="1.288">ECAR (mpH/min)</text>
<text transform="translate(1160.17 989.8) scale(1 0.98)" font-size="32" fill="#000" letter-spacing="-0.200" stroke="#000" stroke-width="0.45" stroke-linejoin="round">Veh</text>
<text transform="translate(1300.22 989.8) scale(1 0.98)" font-size="32" fill="#000" letter-spacing="-0.125" stroke="#000" stroke-width="0.45" stroke-linejoin="round">RXD</text>
<text transform="translate(1188.6 614.3) scale(1 0.97)" font-size="32" fill="#1c1c1c" letter-spacing="0.150" stroke="#1c1c1c" stroke-width="0.4" stroke-linejoin="round">Glycolysis</text>
<text transform="translate(1526.9 668.7)" font-size="33" fill="#000" stroke="#000" stroke-width="0.3" stroke-linejoin="round">150</text>
<text transform="translate(1526.9 765)" font-size="33" fill="#000" stroke="#000" stroke-width="0.3" stroke-linejoin="round">100</text>
<text transform="translate(1545.15 860.7)" font-size="33" fill="#000" stroke="#000" stroke-width="0.3" stroke-linejoin="round">50</text>
<text transform="translate(1563.65 956.5)" font-size="33" fill="#000" stroke="#000" stroke-width="0.3" stroke-linejoin="round">0</text>
<text transform="translate(1749.17 714.9) scale(1 1.01)" font-size="24" fill="#000" letter-spacing="-1.322" stroke="#000" stroke-width="0.45" stroke-linejoin="round"><tspan font-style="italic">P</tspan> = 0.0001</text>
<text transform="translate(1509.1 923.5) rotate(-90)" font-size="30" fill="#000" letter-spacing="1.288">ECAR (mpH/min)</text>
<text transform="translate(1646.37 989.8) scale(1 0.98)" font-size="32" fill="#000" letter-spacing="0.150" stroke="#000" stroke-width="0.45" stroke-linejoin="round">Veh</text>
<text transform="translate(1791.52 989.8) scale(1 0.98)" font-size="32" fill="#000" letter-spacing="0.075" stroke="#000" stroke-width="0.45" stroke-linejoin="round">RXD</text>
<text transform="translate(1615.6 614.1) scale(1 0.97)" font-size="32" fill="#1c1c1c" letter-spacing="0.072" stroke="#1c1c1c" stroke-width="0.4" stroke-linejoin="round">Glycolytic capacity</text>
<text transform="translate(1977.3 681.6) scale(1 1.04)" font-size="32" fill="#1c1c1c" stroke="#1c1c1c" stroke-width="0.4" stroke-linejoin="round">Ctrl</text>
<text transform="translate(1977.3 717.9) scale(1 1.04)" font-size="32" fill="#1c1c1c" stroke="#1c1c1c" stroke-width="0.4" stroke-linejoin="round">GC</text>
<text transform="translate(1976.3 754.3) scale(1 1.04)" font-size="32" fill="#1c1c1c" stroke="#1c1c1c" stroke-width="0.4" stroke-linejoin="round">LPS</text>
<text transform="translate(1977.3 790) scale(1 1.04)" font-size="32" fill="#1c1c1c" stroke="#1c1c1c" stroke-width="0.4" stroke-linejoin="round">GC + LPS</text>
<text transform="translate(2.6 1110.6) scale(1 0.975)" font-size="49.5" fill="#222" font-weight="bold">c</text>
<text transform="translate(99.75 1159.5)" font-size="33" fill="#000" stroke="#000" stroke-width="0.3" stroke-linejoin="round">5</text>
<text transform="translate(99.25 1216.6)" font-size="33" fill="#000" stroke="#000" stroke-width="0.3" stroke-linejoin="round">4</text>
<text transform="translate(99.75 1273.1)" font-size="33" fill="#000" stroke="#000" stroke-width="0.3" stroke-linejoin="round">3</text>
<text transform="translate(100 1329.8)" font-size="33" fill="#000" stroke="#000" stroke-width="0.3" stroke-linejoin="round">2</text>
<text transform="translate(100 1386.4)" font-size="33" fill="#000" stroke="#000" stroke-width="0.3" stroke-linejoin="round">1</text>
<text transform="translate(99.75 1442.8)" font-size="33" fill="#000" stroke="#000" stroke-width="0.3" stroke-linejoin="round">0</text>
<text transform="translate(176.28 1159.2) scale(1 1.01)" font-size="24" fill="#000" letter-spacing="-0.431" stroke="#000" stroke-width="0.45" stroke-linejoin="round"><tspan font-style="italic">P</tspan> = 0.002</text>
<text transform="translate(292.18 1199.9) scale(1 1.01)" font-size="24" fill="#000" letter-spacing="-0.719" stroke="#000" stroke-width="0.45" stroke-linejoin="round"><tspan font-style="italic">P</tspan> = 0.004</text>
<text transform="translate(75 1382.45) rotate(-90)" font-size="30" fill="#000" letter-spacing="0.425">IL-1β (ng/ml)</text>
<text transform="translate(180.18 1472.9) scale(1 0.98)" font-size="32" fill="#000" letter-spacing="0.450" stroke="#000" stroke-width="0.45" stroke-linejoin="round">Veh</text>
<text transform="translate(306.13 1472.9) scale(1 0.98)" font-size="32" fill="#000" letter-spacing="-0.040" stroke="#000" stroke-width="0.45" stroke-linejoin="round">UK5099</text>
<text transform="translate(558.55 1157.8)" font-size="33" fill="#000" stroke="#000" stroke-width="0.3" stroke-linejoin="round">50</text>
<text transform="translate(558.55 1215)" font-size="33" fill="#000" stroke="#000" stroke-width="0.3" stroke-linejoin="round">40</text>
<text transform="translate(558.55 1272)" font-size="33" fill="#000" stroke="#000" stroke-width="0.3" stroke-linejoin="round">30</text>
<text transform="translate(558.55 1328.9)" font-size="33" fill="#000" stroke="#000" stroke-width="0.3" stroke-linejoin="round">20</text>
<text transform="translate(558.55 1386.1)" font-size="33" fill="#000" stroke="#000" stroke-width="0.3" stroke-linejoin="round">10</text>
<text transform="translate(577.05 1443.1)" font-size="33" fill="#000" stroke="#000" stroke-width="0.3" stroke-linejoin="round">0</text>
<text transform="translate(658.77 1157) scale(1 1.01)" font-size="24" fill="#000" letter-spacing="-0.756" stroke="#000" stroke-width="0.45" stroke-linejoin="round"><tspan font-style="italic">P</tspan> = 0.0001</text>
<text transform="translate(829.08 1157.5) scale(1 1.01)" font-size="24" fill="#000" letter-spacing="-0.681" stroke="#000" stroke-width="0.45" stroke-linejoin="round"><tspan font-style="italic">P</tspan> = 0.036</text>
<text transform="translate(771.68 1219) scale(1 1.01)" font-size="24" fill="#000" letter-spacing="-0.625" stroke="#000" stroke-width="0.45" stroke-linejoin="round"><tspan font-style="italic">P</tspan> = 0.025</text>
<text transform="translate(528.7 1374.55) rotate(-90)" font-size="30" fill="#000" letter-spacing="0.514">IL-6 (ng/ml)</text>
<text transform="translate(658.38 1472.9) scale(1 0.98)" font-size="32" fill="#000" letter-spacing="0.700" stroke="#000" stroke-width="0.45" stroke-linejoin="round">Veh</text>
<text transform="translate(784.52 1472.9) scale(1 0.98)" font-size="32" fill="#000" letter-spacing="0.040" stroke="#000" stroke-width="0.45" stroke-linejoin="round">UK5099</text>
<text transform="translate(1059.45 1157.8)" font-size="33" fill="#000" stroke="#000" stroke-width="0.3" stroke-linejoin="round">10</text>
<text transform="translate(1077.95 1215)" font-size="33" fill="#000" stroke="#000" stroke-width="0.3" stroke-linejoin="round">8</text>
<text transform="translate(1077.95 1272)" font-size="33" fill="#000" stroke="#000" stroke-width="0.3" stroke-linejoin="round">6</text>
<text transform="translate(1077.45 1328.9)" font-size="33" fill="#000" stroke="#000" stroke-width="0.3" stroke-linejoin="round">4</text>
<text transform="translate(1078.2 1386.1)" font-size="33" fill="#000" stroke="#000" stroke-width="0.3" stroke-linejoin="round">2</text>
<text transform="translate(1077.95 1443.1)" font-size="33" fill="#000" stroke="#000" stroke-width="0.3" stroke-linejoin="round">0</text>
<text transform="translate(1166.97 1148.7) scale(1 1.01)" font-size="24" fill="#000" letter-spacing="-0.981" stroke="#000" stroke-width="0.45" stroke-linejoin="round"><tspan font-style="italic">P</tspan> = 0.001</text>
<text transform="translate(1044.4 1374.55) rotate(-90)" font-size="30" fill="#000" letter-spacing="-0.010">TNF (ng/ml)</text>
<text transform="translate(1156.37 1472.9) scale(1 0.98)" font-size="32" fill="#000" letter-spacing="0.200" stroke="#000" stroke-width="0.45" stroke-linejoin="round">Veh</text>
<text transform="translate(1281.52 1472.9) scale(1 0.98)" font-size="32" fill="#000" letter-spacing="0.020" stroke="#000" stroke-width="0.45" stroke-linejoin="round">UK5099</text>
<text transform="translate(1493.1 1171.4) scale(1 1.04)" font-size="32" fill="#1c1c1c" stroke="#1c1c1c" stroke-width="0.4" stroke-linejoin="round">Ctrl</text>
<text transform="translate(1493.1 1207.8) scale(1 1.04)" font-size="32" fill="#1c1c1c" stroke="#1c1c1c" stroke-width="0.4" stroke-linejoin="round">GC</text>
<text transform="translate(1492.1 1244.2) scale(1 1.04)" font-size="32" fill="#1c1c1c" stroke="#1c1c1c" stroke-width="0.4" stroke-linejoin="round">LPS</text>
<text transform="translate(1493.1 1280.4) scale(1 1.04)" font-size="32" fill="#1c1c1c" stroke="#1c1c1c" stroke-width="0.4" stroke-linejoin="round">GC + LPS</text>
</g>
</svg>
</body>
</html>
